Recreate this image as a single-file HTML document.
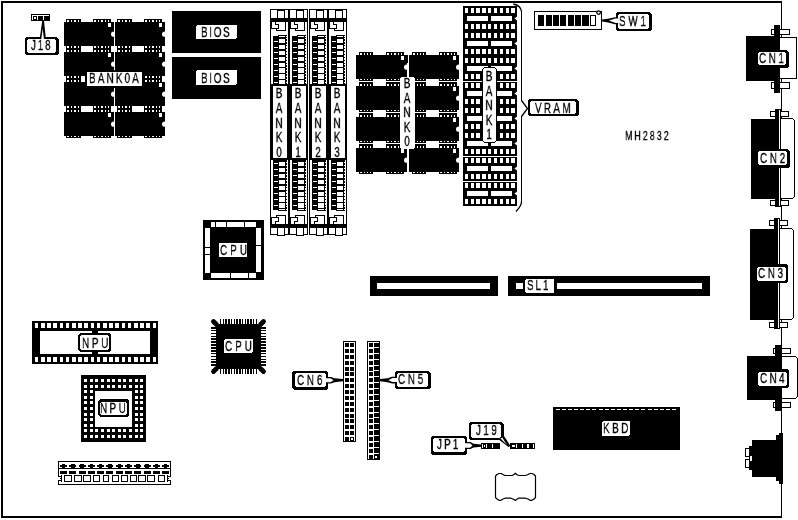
<!DOCTYPE html>
<html><head><meta charset="utf-8"><title>MH2832</title>
<style>
html,body{margin:0;padding:0;background:#fff;}
#b{position:relative;width:798px;height:520px;overflow:hidden;background:#fff;font-family:"Liberation Sans",sans-serif;color:#000;}
#b svg{position:absolute;left:0;top:0;}
.t,.v{-webkit-text-stroke:0.3px #000;}
.t{will-change:transform;position:absolute;text-align:left;white-space:nowrap;transform-origin:0 0;font-kerning:none;}
.v{will-change:transform;transform-origin:50% 50%;position:absolute;text-align:center;word-break:break-all;overflow-wrap:anywhere;}
</style></head><body>
<div id="b">
<svg width="798" height="520" viewBox="0 0 798 520" shape-rendering="crispEdges">
<rect x="1" y="1" width="781" height="517" fill="#000"/>
<rect x="3" y="3" width="778" height="513" fill="#fff"/>
<rect x="64" y="22" width="50" height="24" fill="#000"/>
<rect x="66" y="19" width="15" height="3" fill="#000"/>
<rect x="67.3" y="20" width="1.4" height="2" fill="#fff"/>
<rect x="70.8" y="20" width="1.4" height="2" fill="#fff"/>
<rect x="74.3" y="20" width="1.4" height="2" fill="#fff"/>
<rect x="77.8" y="20" width="1.4" height="2" fill="#fff"/>
<rect x="66" y="46" width="15" height="3" fill="#000"/>
<rect x="67.3" y="46" width="1.4" height="2" fill="#fff"/>
<rect x="70.8" y="46" width="1.4" height="2" fill="#fff"/>
<rect x="74.3" y="46" width="1.4" height="2" fill="#fff"/>
<rect x="77.8" y="46" width="1.4" height="2" fill="#fff"/>
<rect x="93" y="19" width="18" height="3" fill="#000"/>
<rect x="94.3" y="20" width="1.4" height="2" fill="#fff"/>
<rect x="97.7" y="20" width="1.4" height="2" fill="#fff"/>
<rect x="101.1" y="20" width="1.4" height="2" fill="#fff"/>
<rect x="104.5" y="20" width="1.4" height="2" fill="#fff"/>
<rect x="107.9" y="20" width="1.4" height="2" fill="#fff"/>
<rect x="93" y="46" width="18" height="3" fill="#000"/>
<rect x="94.3" y="46" width="1.4" height="2" fill="#fff"/>
<rect x="97.7" y="46" width="1.4" height="2" fill="#fff"/>
<rect x="101.1" y="46" width="1.4" height="2" fill="#fff"/>
<rect x="104.5" y="46" width="1.4" height="2" fill="#fff"/>
<rect x="107.9" y="46" width="1.4" height="2" fill="#fff"/>
<rect x="108" y="23" width="3" height="4" fill="#fff"/>
<path d="M114 31.6 a3 2.6 0 0 0 0 5.2z" fill="#fff" shape-rendering="auto"/>
<rect x="115" y="22" width="50" height="24" fill="#000"/>
<rect x="117" y="19" width="15" height="3" fill="#000"/>
<rect x="118.3" y="20" width="1.4" height="2" fill="#fff"/>
<rect x="121.8" y="20" width="1.4" height="2" fill="#fff"/>
<rect x="125.3" y="20" width="1.4" height="2" fill="#fff"/>
<rect x="128.8" y="20" width="1.4" height="2" fill="#fff"/>
<rect x="117" y="46" width="15" height="3" fill="#000"/>
<rect x="118.3" y="46" width="1.4" height="2" fill="#fff"/>
<rect x="121.8" y="46" width="1.4" height="2" fill="#fff"/>
<rect x="125.3" y="46" width="1.4" height="2" fill="#fff"/>
<rect x="128.8" y="46" width="1.4" height="2" fill="#fff"/>
<rect x="144" y="19" width="18" height="3" fill="#000"/>
<rect x="145.3" y="20" width="1.4" height="2" fill="#fff"/>
<rect x="148.7" y="20" width="1.4" height="2" fill="#fff"/>
<rect x="152.1" y="20" width="1.4" height="2" fill="#fff"/>
<rect x="155.5" y="20" width="1.4" height="2" fill="#fff"/>
<rect x="158.9" y="20" width="1.4" height="2" fill="#fff"/>
<rect x="144" y="46" width="18" height="3" fill="#000"/>
<rect x="145.3" y="46" width="1.4" height="2" fill="#fff"/>
<rect x="148.7" y="46" width="1.4" height="2" fill="#fff"/>
<rect x="152.1" y="46" width="1.4" height="2" fill="#fff"/>
<rect x="155.5" y="46" width="1.4" height="2" fill="#fff"/>
<rect x="158.9" y="46" width="1.4" height="2" fill="#fff"/>
<rect x="159" y="23" width="3" height="4" fill="#fff"/>
<path d="M165 31.6 a3 2.6 0 0 0 0 5.2z" fill="#fff" shape-rendering="auto"/>
<rect x="64" y="52" width="50" height="24" fill="#000"/>
<rect x="66" y="49" width="15" height="3" fill="#000"/>
<rect x="67.3" y="50" width="1.4" height="2" fill="#fff"/>
<rect x="70.8" y="50" width="1.4" height="2" fill="#fff"/>
<rect x="74.3" y="50" width="1.4" height="2" fill="#fff"/>
<rect x="77.8" y="50" width="1.4" height="2" fill="#fff"/>
<rect x="66" y="76" width="15" height="3" fill="#000"/>
<rect x="67.3" y="76" width="1.4" height="2" fill="#fff"/>
<rect x="70.8" y="76" width="1.4" height="2" fill="#fff"/>
<rect x="74.3" y="76" width="1.4" height="2" fill="#fff"/>
<rect x="77.8" y="76" width="1.4" height="2" fill="#fff"/>
<rect x="93" y="49" width="18" height="3" fill="#000"/>
<rect x="94.3" y="50" width="1.4" height="2" fill="#fff"/>
<rect x="97.7" y="50" width="1.4" height="2" fill="#fff"/>
<rect x="101.1" y="50" width="1.4" height="2" fill="#fff"/>
<rect x="104.5" y="50" width="1.4" height="2" fill="#fff"/>
<rect x="107.9" y="50" width="1.4" height="2" fill="#fff"/>
<rect x="93" y="76" width="18" height="3" fill="#000"/>
<rect x="94.3" y="76" width="1.4" height="2" fill="#fff"/>
<rect x="97.7" y="76" width="1.4" height="2" fill="#fff"/>
<rect x="101.1" y="76" width="1.4" height="2" fill="#fff"/>
<rect x="104.5" y="76" width="1.4" height="2" fill="#fff"/>
<rect x="107.9" y="76" width="1.4" height="2" fill="#fff"/>
<rect x="108" y="53" width="3" height="4" fill="#fff"/>
<path d="M114 61.6 a3 2.6 0 0 0 0 5.2z" fill="#fff" shape-rendering="auto"/>
<rect x="115" y="52" width="50" height="24" fill="#000"/>
<rect x="117" y="49" width="15" height="3" fill="#000"/>
<rect x="118.3" y="50" width="1.4" height="2" fill="#fff"/>
<rect x="121.8" y="50" width="1.4" height="2" fill="#fff"/>
<rect x="125.3" y="50" width="1.4" height="2" fill="#fff"/>
<rect x="128.8" y="50" width="1.4" height="2" fill="#fff"/>
<rect x="117" y="76" width="15" height="3" fill="#000"/>
<rect x="118.3" y="76" width="1.4" height="2" fill="#fff"/>
<rect x="121.8" y="76" width="1.4" height="2" fill="#fff"/>
<rect x="125.3" y="76" width="1.4" height="2" fill="#fff"/>
<rect x="128.8" y="76" width="1.4" height="2" fill="#fff"/>
<rect x="144" y="49" width="18" height="3" fill="#000"/>
<rect x="145.3" y="50" width="1.4" height="2" fill="#fff"/>
<rect x="148.7" y="50" width="1.4" height="2" fill="#fff"/>
<rect x="152.1" y="50" width="1.4" height="2" fill="#fff"/>
<rect x="155.5" y="50" width="1.4" height="2" fill="#fff"/>
<rect x="158.9" y="50" width="1.4" height="2" fill="#fff"/>
<rect x="144" y="76" width="18" height="3" fill="#000"/>
<rect x="145.3" y="76" width="1.4" height="2" fill="#fff"/>
<rect x="148.7" y="76" width="1.4" height="2" fill="#fff"/>
<rect x="152.1" y="76" width="1.4" height="2" fill="#fff"/>
<rect x="155.5" y="76" width="1.4" height="2" fill="#fff"/>
<rect x="158.9" y="76" width="1.4" height="2" fill="#fff"/>
<rect x="159" y="53" width="3" height="4" fill="#fff"/>
<path d="M165 61.6 a3 2.6 0 0 0 0 5.2z" fill="#fff" shape-rendering="auto"/>
<rect x="64" y="82" width="50" height="24" fill="#000"/>
<rect x="66" y="79" width="15" height="3" fill="#000"/>
<rect x="67.3" y="80" width="1.4" height="2" fill="#fff"/>
<rect x="70.8" y="80" width="1.4" height="2" fill="#fff"/>
<rect x="74.3" y="80" width="1.4" height="2" fill="#fff"/>
<rect x="77.8" y="80" width="1.4" height="2" fill="#fff"/>
<rect x="66" y="106" width="15" height="3" fill="#000"/>
<rect x="67.3" y="106" width="1.4" height="2" fill="#fff"/>
<rect x="70.8" y="106" width="1.4" height="2" fill="#fff"/>
<rect x="74.3" y="106" width="1.4" height="2" fill="#fff"/>
<rect x="77.8" y="106" width="1.4" height="2" fill="#fff"/>
<rect x="93" y="79" width="18" height="3" fill="#000"/>
<rect x="94.3" y="80" width="1.4" height="2" fill="#fff"/>
<rect x="97.7" y="80" width="1.4" height="2" fill="#fff"/>
<rect x="101.1" y="80" width="1.4" height="2" fill="#fff"/>
<rect x="104.5" y="80" width="1.4" height="2" fill="#fff"/>
<rect x="107.9" y="80" width="1.4" height="2" fill="#fff"/>
<rect x="93" y="106" width="18" height="3" fill="#000"/>
<rect x="94.3" y="106" width="1.4" height="2" fill="#fff"/>
<rect x="97.7" y="106" width="1.4" height="2" fill="#fff"/>
<rect x="101.1" y="106" width="1.4" height="2" fill="#fff"/>
<rect x="104.5" y="106" width="1.4" height="2" fill="#fff"/>
<rect x="107.9" y="106" width="1.4" height="2" fill="#fff"/>
<rect x="108" y="83" width="3" height="4" fill="#fff"/>
<path d="M114 91.6 a3 2.6 0 0 0 0 5.2z" fill="#fff" shape-rendering="auto"/>
<rect x="115" y="82" width="50" height="24" fill="#000"/>
<rect x="117" y="79" width="15" height="3" fill="#000"/>
<rect x="118.3" y="80" width="1.4" height="2" fill="#fff"/>
<rect x="121.8" y="80" width="1.4" height="2" fill="#fff"/>
<rect x="125.3" y="80" width="1.4" height="2" fill="#fff"/>
<rect x="128.8" y="80" width="1.4" height="2" fill="#fff"/>
<rect x="117" y="106" width="15" height="3" fill="#000"/>
<rect x="118.3" y="106" width="1.4" height="2" fill="#fff"/>
<rect x="121.8" y="106" width="1.4" height="2" fill="#fff"/>
<rect x="125.3" y="106" width="1.4" height="2" fill="#fff"/>
<rect x="128.8" y="106" width="1.4" height="2" fill="#fff"/>
<rect x="144" y="79" width="18" height="3" fill="#000"/>
<rect x="145.3" y="80" width="1.4" height="2" fill="#fff"/>
<rect x="148.7" y="80" width="1.4" height="2" fill="#fff"/>
<rect x="152.1" y="80" width="1.4" height="2" fill="#fff"/>
<rect x="155.5" y="80" width="1.4" height="2" fill="#fff"/>
<rect x="158.9" y="80" width="1.4" height="2" fill="#fff"/>
<rect x="144" y="106" width="18" height="3" fill="#000"/>
<rect x="145.3" y="106" width="1.4" height="2" fill="#fff"/>
<rect x="148.7" y="106" width="1.4" height="2" fill="#fff"/>
<rect x="152.1" y="106" width="1.4" height="2" fill="#fff"/>
<rect x="155.5" y="106" width="1.4" height="2" fill="#fff"/>
<rect x="158.9" y="106" width="1.4" height="2" fill="#fff"/>
<rect x="159" y="83" width="3" height="4" fill="#fff"/>
<path d="M165 91.6 a3 2.6 0 0 0 0 5.2z" fill="#fff" shape-rendering="auto"/>
<rect x="64" y="112" width="50" height="24" fill="#000"/>
<rect x="66" y="109" width="15" height="3" fill="#000"/>
<rect x="67.3" y="110" width="1.4" height="2" fill="#fff"/>
<rect x="70.8" y="110" width="1.4" height="2" fill="#fff"/>
<rect x="74.3" y="110" width="1.4" height="2" fill="#fff"/>
<rect x="77.8" y="110" width="1.4" height="2" fill="#fff"/>
<rect x="66" y="136" width="15" height="2" fill="#000"/>
<rect x="67.3" y="136" width="1.4" height="1" fill="#fff"/>
<rect x="70.8" y="136" width="1.4" height="1" fill="#fff"/>
<rect x="74.3" y="136" width="1.4" height="1" fill="#fff"/>
<rect x="77.8" y="136" width="1.4" height="1" fill="#fff"/>
<rect x="93" y="109" width="18" height="3" fill="#000"/>
<rect x="94.3" y="110" width="1.4" height="2" fill="#fff"/>
<rect x="97.7" y="110" width="1.4" height="2" fill="#fff"/>
<rect x="101.1" y="110" width="1.4" height="2" fill="#fff"/>
<rect x="104.5" y="110" width="1.4" height="2" fill="#fff"/>
<rect x="107.9" y="110" width="1.4" height="2" fill="#fff"/>
<rect x="93" y="136" width="18" height="2" fill="#000"/>
<rect x="94.3" y="136" width="1.4" height="1" fill="#fff"/>
<rect x="97.7" y="136" width="1.4" height="1" fill="#fff"/>
<rect x="101.1" y="136" width="1.4" height="1" fill="#fff"/>
<rect x="104.5" y="136" width="1.4" height="1" fill="#fff"/>
<rect x="107.9" y="136" width="1.4" height="1" fill="#fff"/>
<rect x="108" y="113" width="3" height="4" fill="#fff"/>
<path d="M114 121.6 a3 2.6 0 0 0 0 5.2z" fill="#fff" shape-rendering="auto"/>
<rect x="115" y="112" width="50" height="24" fill="#000"/>
<rect x="117" y="109" width="15" height="3" fill="#000"/>
<rect x="118.3" y="110" width="1.4" height="2" fill="#fff"/>
<rect x="121.8" y="110" width="1.4" height="2" fill="#fff"/>
<rect x="125.3" y="110" width="1.4" height="2" fill="#fff"/>
<rect x="128.8" y="110" width="1.4" height="2" fill="#fff"/>
<rect x="117" y="136" width="15" height="2" fill="#000"/>
<rect x="118.3" y="136" width="1.4" height="1" fill="#fff"/>
<rect x="121.8" y="136" width="1.4" height="1" fill="#fff"/>
<rect x="125.3" y="136" width="1.4" height="1" fill="#fff"/>
<rect x="128.8" y="136" width="1.4" height="1" fill="#fff"/>
<rect x="144" y="109" width="18" height="3" fill="#000"/>
<rect x="145.3" y="110" width="1.4" height="2" fill="#fff"/>
<rect x="148.7" y="110" width="1.4" height="2" fill="#fff"/>
<rect x="152.1" y="110" width="1.4" height="2" fill="#fff"/>
<rect x="155.5" y="110" width="1.4" height="2" fill="#fff"/>
<rect x="158.9" y="110" width="1.4" height="2" fill="#fff"/>
<rect x="144" y="136" width="18" height="2" fill="#000"/>
<rect x="145.3" y="136" width="1.4" height="1" fill="#fff"/>
<rect x="148.7" y="136" width="1.4" height="1" fill="#fff"/>
<rect x="152.1" y="136" width="1.4" height="1" fill="#fff"/>
<rect x="155.5" y="136" width="1.4" height="1" fill="#fff"/>
<rect x="158.9" y="136" width="1.4" height="1" fill="#fff"/>
<rect x="159" y="113" width="3" height="4" fill="#fff"/>
<path d="M165 121.6 a3 2.6 0 0 0 0 5.2z" fill="#fff" shape-rendering="auto"/>
<rect x="85" y="70" width="59" height="18" fill="#000"/>
<rect x="87" y="72" width="55" height="14" fill="#fff"/>
<rect x="172" y="11" width="89" height="42" fill="#000"/>
<rect x="172" y="57" width="89" height="42" fill="#000"/>
<rect x="196" y="25" width="41" height="14" rx="2" ry="2" fill="#fff"/>
<rect x="196" y="70" width="41" height="15" rx="2" ry="2" fill="#fff"/>
<rect x="31" y="14" width="19" height="7" fill="#000"/>
<rect x="32" y="15" width="17" height="1" fill="#fff"/>
<rect x="32" y="15" width="1" height="5" fill="#fff"/>
<rect x="37" y="15" width="1" height="5" fill="#fff"/>
<rect x="43" y="15" width="1" height="5" fill="#fff"/>
<rect x="34" y="17" width="2" height="2" fill="#fff"/>
<rect x="25" y="37" width="34" height="18" fill="#000"/>
<rect x="27" y="39" width="29" height="14" fill="#fff"/>
<rect x="27" y="39" width="1" height="1" fill="#000"/>
<rect x="55" y="39" width="1" height="1" fill="#000"/>
<rect x="27" y="52" width="1" height="1" fill="#000"/>
<rect x="55" y="52" width="1" height="1" fill="#000"/>
<rect x="25" y="37" width="1" height="1" fill="#fff"/>
<rect x="58" y="37" width="1" height="1" fill="#fff"/>
<rect x="57" y="37" width="1" height="1" fill="#fff"/>
<rect x="58" y="38" width="1" height="1" fill="#fff"/>
<rect x="25" y="54" width="1" height="1" fill="#fff"/>
<rect x="58" y="54" width="1" height="1" fill="#fff"/>
<path d="M42.2 21 L44 21 L45.8 38 L39.8 38 Z" fill="#000" stroke="none" stroke-width="1" shape-rendering="auto"/>
<path d="M42.7 28.5 L43.9 39 L41.3 39 Z" fill="#fff" stroke="none" stroke-width="1" shape-rendering="auto"/>
<rect x="270" y="9" width="19" height="226" fill="#000"/>
<rect x="271" y="10" width="17" height="224" fill="#fff"/>
<rect x="277" y="9" width="1" height="9" fill="#000"/>
<rect x="284" y="9" width="1" height="9" fill="#000"/>
<rect x="270" y="18" width="19" height="4" fill="#000"/>
<rect x="277" y="10" width="8" height="1" fill="#000"/>
<rect x="277" y="228" width="1" height="8" fill="#000"/>
<rect x="284" y="228" width="1" height="8" fill="#000"/>
<rect x="270" y="224" width="19" height="4" fill="#000"/>
<rect x="278" y="234" width="6" height="1" fill="#fff"/>
<rect x="277" y="235" width="8" height="1" fill="#000"/>
<rect x="271" y="22" width="1" height="7" fill="#000"/>
<rect x="271" y="28" width="8" height="1" fill="#000"/>
<rect x="276" y="28" width="1" height="3" fill="#000"/>
<rect x="276" y="30" width="10" height="1" fill="#000"/>
<rect x="285" y="22" width="1" height="9" fill="#000"/>
<rect x="275" y="22" width="1" height="3" fill="#000"/>
<rect x="275" y="24" width="4" height="1" fill="#000"/>
<rect x="278" y="24" width="1" height="5" fill="#000"/>
<rect x="271" y="217" width="1" height="7" fill="#000"/>
<rect x="271" y="217" width="8" height="1" fill="#000"/>
<rect x="276" y="215" width="1" height="3" fill="#000"/>
<rect x="276" y="215" width="10" height="1" fill="#000"/>
<rect x="285" y="215" width="1" height="9" fill="#000"/>
<rect x="275" y="221" width="1" height="3" fill="#000"/>
<rect x="275" y="221" width="4" height="1" fill="#000"/>
<rect x="278" y="217" width="1" height="5" fill="#000"/>
<rect x="278" y="35" width="9" height="1" fill="#000"/>
<rect x="273" y="36" width="13" height="48" fill="#000"/>
<rect x="286" y="37" width="1" height="47" fill="#000"/>
<rect x="279" y="36" width="6" height="1" fill="#fff"/>
<rect x="279" y="38.9" width="6" height="4.3" fill="#fff"/>
<rect x="274" y="40.6" width="4" height="1" fill="#fff"/>
<rect x="279" y="44.8" width="6" height="4.3" fill="#fff"/>
<rect x="274" y="46.5" width="4" height="1" fill="#fff"/>
<rect x="279" y="50.7" width="6" height="4.3" fill="#fff"/>
<rect x="274" y="52.4" width="4" height="1" fill="#fff"/>
<rect x="279" y="56.6" width="6" height="4.3" fill="#fff"/>
<rect x="274" y="58.3" width="4" height="1" fill="#fff"/>
<rect x="279" y="62.5" width="6" height="4.3" fill="#fff"/>
<rect x="274" y="64.2" width="4" height="1" fill="#fff"/>
<rect x="279" y="68.4" width="6" height="4.3" fill="#fff"/>
<rect x="274" y="70.1" width="4" height="1" fill="#fff"/>
<rect x="279" y="74.3" width="6" height="4.3" fill="#fff"/>
<rect x="274" y="76" width="4" height="1" fill="#fff"/>
<rect x="279" y="80.2" width="6" height="4.3" fill="#fff"/>
<rect x="274" y="81.9" width="4" height="1" fill="#fff"/>
<rect x="273" y="160" width="13" height="50" fill="#000"/>
<rect x="278" y="210" width="9" height="1" fill="#000"/>
<rect x="286" y="160" width="1" height="49" fill="#000"/>
<rect x="279" y="209" width="6" height="1" fill="#fff"/>
<rect x="279" y="162" width="6" height="4.3" fill="#fff"/>
<rect x="274" y="163.4" width="4" height="1" fill="#fff"/>
<rect x="279" y="167.9" width="6" height="4.3" fill="#fff"/>
<rect x="274" y="169.3" width="4" height="1" fill="#fff"/>
<rect x="279" y="173.8" width="6" height="4.3" fill="#fff"/>
<rect x="274" y="175.2" width="4" height="1" fill="#fff"/>
<rect x="279" y="179.7" width="6" height="4.3" fill="#fff"/>
<rect x="274" y="181.1" width="4" height="1" fill="#fff"/>
<rect x="279" y="185.6" width="6" height="4.3" fill="#fff"/>
<rect x="274" y="187" width="4" height="1" fill="#fff"/>
<rect x="279" y="191.5" width="6" height="4.3" fill="#fff"/>
<rect x="274" y="192.9" width="4" height="1" fill="#fff"/>
<rect x="279" y="197.4" width="6" height="4.3" fill="#fff"/>
<rect x="274" y="198.8" width="4" height="1" fill="#fff"/>
<rect x="279" y="203.3" width="6" height="4.3" fill="#fff"/>
<rect x="274" y="204.7" width="4" height="1" fill="#fff"/>
<rect x="286" y="37.6" width="1" height="1.3" fill="#fff"/>
<rect x="286" y="161.9" width="1" height="1.3" fill="#fff"/>
<rect x="286" y="40.55" width="1" height="1.3" fill="#fff"/>
<rect x="286" y="164.85" width="1" height="1.3" fill="#fff"/>
<rect x="286" y="43.5" width="1" height="1.3" fill="#fff"/>
<rect x="286" y="167.8" width="1" height="1.3" fill="#fff"/>
<rect x="286" y="46.45" width="1" height="1.3" fill="#fff"/>
<rect x="286" y="170.75" width="1" height="1.3" fill="#fff"/>
<rect x="286" y="49.4" width="1" height="1.3" fill="#fff"/>
<rect x="286" y="173.7" width="1" height="1.3" fill="#fff"/>
<rect x="286" y="52.35" width="1" height="1.3" fill="#fff"/>
<rect x="286" y="176.65" width="1" height="1.3" fill="#fff"/>
<rect x="286" y="55.3" width="1" height="1.3" fill="#fff"/>
<rect x="286" y="179.6" width="1" height="1.3" fill="#fff"/>
<rect x="286" y="58.25" width="1" height="1.3" fill="#fff"/>
<rect x="286" y="182.55" width="1" height="1.3" fill="#fff"/>
<rect x="286" y="61.2" width="1" height="1.3" fill="#fff"/>
<rect x="286" y="185.5" width="1" height="1.3" fill="#fff"/>
<rect x="286" y="64.15" width="1" height="1.3" fill="#fff"/>
<rect x="286" y="188.45" width="1" height="1.3" fill="#fff"/>
<rect x="286" y="67.1" width="1" height="1.3" fill="#fff"/>
<rect x="286" y="191.4" width="1" height="1.3" fill="#fff"/>
<rect x="286" y="70.05" width="1" height="1.3" fill="#fff"/>
<rect x="286" y="194.35" width="1" height="1.3" fill="#fff"/>
<rect x="286" y="73" width="1" height="1.3" fill="#fff"/>
<rect x="286" y="197.3" width="1" height="1.3" fill="#fff"/>
<rect x="286" y="75.95" width="1" height="1.3" fill="#fff"/>
<rect x="286" y="200.25" width="1" height="1.3" fill="#fff"/>
<rect x="286" y="78.9" width="1" height="1.3" fill="#fff"/>
<rect x="286" y="203.2" width="1" height="1.3" fill="#fff"/>
<rect x="286" y="81.85" width="1" height="1.3" fill="#fff"/>
<rect x="286" y="206.15" width="1" height="1.3" fill="#fff"/>
<rect x="270" y="84" width="19" height="76" fill="#000"/>
<rect x="273" y="86" width="14" height="72" fill="#fff"/>
<rect x="289" y="9" width="19" height="226" fill="#000"/>
<rect x="290" y="10" width="17" height="224" fill="#fff"/>
<rect x="296" y="9" width="1" height="9" fill="#000"/>
<rect x="303" y="9" width="1" height="9" fill="#000"/>
<rect x="289" y="18" width="19" height="4" fill="#000"/>
<rect x="296" y="10" width="8" height="1" fill="#000"/>
<rect x="296" y="228" width="1" height="8" fill="#000"/>
<rect x="303" y="228" width="1" height="8" fill="#000"/>
<rect x="289" y="224" width="19" height="4" fill="#000"/>
<rect x="297" y="234" width="6" height="1" fill="#fff"/>
<rect x="296" y="235" width="8" height="1" fill="#000"/>
<rect x="290" y="22" width="1" height="7" fill="#000"/>
<rect x="290" y="28" width="8" height="1" fill="#000"/>
<rect x="295" y="28" width="1" height="3" fill="#000"/>
<rect x="295" y="30" width="10" height="1" fill="#000"/>
<rect x="304" y="22" width="1" height="9" fill="#000"/>
<rect x="294" y="22" width="1" height="3" fill="#000"/>
<rect x="294" y="24" width="4" height="1" fill="#000"/>
<rect x="297" y="24" width="1" height="5" fill="#000"/>
<rect x="290" y="217" width="1" height="7" fill="#000"/>
<rect x="290" y="217" width="8" height="1" fill="#000"/>
<rect x="295" y="215" width="1" height="3" fill="#000"/>
<rect x="295" y="215" width="10" height="1" fill="#000"/>
<rect x="304" y="215" width="1" height="9" fill="#000"/>
<rect x="294" y="221" width="1" height="3" fill="#000"/>
<rect x="294" y="221" width="4" height="1" fill="#000"/>
<rect x="297" y="217" width="1" height="5" fill="#000"/>
<rect x="297" y="35" width="9" height="1" fill="#000"/>
<rect x="292" y="36" width="13" height="48" fill="#000"/>
<rect x="305" y="37" width="1" height="47" fill="#000"/>
<rect x="298" y="36" width="6" height="1" fill="#fff"/>
<rect x="298" y="38.9" width="6" height="4.3" fill="#fff"/>
<rect x="293" y="40.6" width="4" height="1" fill="#fff"/>
<rect x="298" y="44.8" width="6" height="4.3" fill="#fff"/>
<rect x="293" y="46.5" width="4" height="1" fill="#fff"/>
<rect x="298" y="50.7" width="6" height="4.3" fill="#fff"/>
<rect x="293" y="52.4" width="4" height="1" fill="#fff"/>
<rect x="298" y="56.6" width="6" height="4.3" fill="#fff"/>
<rect x="293" y="58.3" width="4" height="1" fill="#fff"/>
<rect x="298" y="62.5" width="6" height="4.3" fill="#fff"/>
<rect x="293" y="64.2" width="4" height="1" fill="#fff"/>
<rect x="298" y="68.4" width="6" height="4.3" fill="#fff"/>
<rect x="293" y="70.1" width="4" height="1" fill="#fff"/>
<rect x="298" y="74.3" width="6" height="4.3" fill="#fff"/>
<rect x="293" y="76" width="4" height="1" fill="#fff"/>
<rect x="298" y="80.2" width="6" height="4.3" fill="#fff"/>
<rect x="293" y="81.9" width="4" height="1" fill="#fff"/>
<rect x="292" y="160" width="13" height="50" fill="#000"/>
<rect x="297" y="210" width="9" height="1" fill="#000"/>
<rect x="305" y="160" width="1" height="49" fill="#000"/>
<rect x="298" y="209" width="6" height="1" fill="#fff"/>
<rect x="298" y="162" width="6" height="4.3" fill="#fff"/>
<rect x="293" y="163.4" width="4" height="1" fill="#fff"/>
<rect x="298" y="167.9" width="6" height="4.3" fill="#fff"/>
<rect x="293" y="169.3" width="4" height="1" fill="#fff"/>
<rect x="298" y="173.8" width="6" height="4.3" fill="#fff"/>
<rect x="293" y="175.2" width="4" height="1" fill="#fff"/>
<rect x="298" y="179.7" width="6" height="4.3" fill="#fff"/>
<rect x="293" y="181.1" width="4" height="1" fill="#fff"/>
<rect x="298" y="185.6" width="6" height="4.3" fill="#fff"/>
<rect x="293" y="187" width="4" height="1" fill="#fff"/>
<rect x="298" y="191.5" width="6" height="4.3" fill="#fff"/>
<rect x="293" y="192.9" width="4" height="1" fill="#fff"/>
<rect x="298" y="197.4" width="6" height="4.3" fill="#fff"/>
<rect x="293" y="198.8" width="4" height="1" fill="#fff"/>
<rect x="298" y="203.3" width="6" height="4.3" fill="#fff"/>
<rect x="293" y="204.7" width="4" height="1" fill="#fff"/>
<rect x="305" y="37.6" width="1" height="1.3" fill="#fff"/>
<rect x="305" y="161.9" width="1" height="1.3" fill="#fff"/>
<rect x="305" y="40.55" width="1" height="1.3" fill="#fff"/>
<rect x="305" y="164.85" width="1" height="1.3" fill="#fff"/>
<rect x="305" y="43.5" width="1" height="1.3" fill="#fff"/>
<rect x="305" y="167.8" width="1" height="1.3" fill="#fff"/>
<rect x="305" y="46.45" width="1" height="1.3" fill="#fff"/>
<rect x="305" y="170.75" width="1" height="1.3" fill="#fff"/>
<rect x="305" y="49.4" width="1" height="1.3" fill="#fff"/>
<rect x="305" y="173.7" width="1" height="1.3" fill="#fff"/>
<rect x="305" y="52.35" width="1" height="1.3" fill="#fff"/>
<rect x="305" y="176.65" width="1" height="1.3" fill="#fff"/>
<rect x="305" y="55.3" width="1" height="1.3" fill="#fff"/>
<rect x="305" y="179.6" width="1" height="1.3" fill="#fff"/>
<rect x="305" y="58.25" width="1" height="1.3" fill="#fff"/>
<rect x="305" y="182.55" width="1" height="1.3" fill="#fff"/>
<rect x="305" y="61.2" width="1" height="1.3" fill="#fff"/>
<rect x="305" y="185.5" width="1" height="1.3" fill="#fff"/>
<rect x="305" y="64.15" width="1" height="1.3" fill="#fff"/>
<rect x="305" y="188.45" width="1" height="1.3" fill="#fff"/>
<rect x="305" y="67.1" width="1" height="1.3" fill="#fff"/>
<rect x="305" y="191.4" width="1" height="1.3" fill="#fff"/>
<rect x="305" y="70.05" width="1" height="1.3" fill="#fff"/>
<rect x="305" y="194.35" width="1" height="1.3" fill="#fff"/>
<rect x="305" y="73" width="1" height="1.3" fill="#fff"/>
<rect x="305" y="197.3" width="1" height="1.3" fill="#fff"/>
<rect x="305" y="75.95" width="1" height="1.3" fill="#fff"/>
<rect x="305" y="200.25" width="1" height="1.3" fill="#fff"/>
<rect x="305" y="78.9" width="1" height="1.3" fill="#fff"/>
<rect x="305" y="203.2" width="1" height="1.3" fill="#fff"/>
<rect x="305" y="81.85" width="1" height="1.3" fill="#fff"/>
<rect x="305" y="206.15" width="1" height="1.3" fill="#fff"/>
<rect x="289" y="84" width="19" height="76" fill="#000"/>
<rect x="292" y="86" width="14" height="72" fill="#fff"/>
<rect x="309" y="9" width="19" height="226" fill="#000"/>
<rect x="310" y="10" width="17" height="224" fill="#fff"/>
<rect x="316" y="9" width="1" height="9" fill="#000"/>
<rect x="323" y="9" width="1" height="9" fill="#000"/>
<rect x="309" y="18" width="19" height="4" fill="#000"/>
<rect x="316" y="10" width="8" height="1" fill="#000"/>
<rect x="316" y="228" width="1" height="8" fill="#000"/>
<rect x="323" y="228" width="1" height="8" fill="#000"/>
<rect x="309" y="224" width="19" height="4" fill="#000"/>
<rect x="317" y="234" width="6" height="1" fill="#fff"/>
<rect x="316" y="235" width="8" height="1" fill="#000"/>
<rect x="310" y="22" width="1" height="7" fill="#000"/>
<rect x="310" y="28" width="8" height="1" fill="#000"/>
<rect x="315" y="28" width="1" height="3" fill="#000"/>
<rect x="315" y="30" width="10" height="1" fill="#000"/>
<rect x="324" y="22" width="1" height="9" fill="#000"/>
<rect x="314" y="22" width="1" height="3" fill="#000"/>
<rect x="314" y="24" width="4" height="1" fill="#000"/>
<rect x="317" y="24" width="1" height="5" fill="#000"/>
<rect x="310" y="217" width="1" height="7" fill="#000"/>
<rect x="310" y="217" width="8" height="1" fill="#000"/>
<rect x="315" y="215" width="1" height="3" fill="#000"/>
<rect x="315" y="215" width="10" height="1" fill="#000"/>
<rect x="324" y="215" width="1" height="9" fill="#000"/>
<rect x="314" y="221" width="1" height="3" fill="#000"/>
<rect x="314" y="221" width="4" height="1" fill="#000"/>
<rect x="317" y="217" width="1" height="5" fill="#000"/>
<rect x="317" y="35" width="9" height="1" fill="#000"/>
<rect x="312" y="36" width="13" height="48" fill="#000"/>
<rect x="325" y="37" width="1" height="47" fill="#000"/>
<rect x="318" y="36" width="6" height="1" fill="#fff"/>
<rect x="318" y="38.9" width="6" height="4.3" fill="#fff"/>
<rect x="313" y="40.6" width="4" height="1" fill="#fff"/>
<rect x="318" y="44.8" width="6" height="4.3" fill="#fff"/>
<rect x="313" y="46.5" width="4" height="1" fill="#fff"/>
<rect x="318" y="50.7" width="6" height="4.3" fill="#fff"/>
<rect x="313" y="52.4" width="4" height="1" fill="#fff"/>
<rect x="318" y="56.6" width="6" height="4.3" fill="#fff"/>
<rect x="313" y="58.3" width="4" height="1" fill="#fff"/>
<rect x="318" y="62.5" width="6" height="4.3" fill="#fff"/>
<rect x="313" y="64.2" width="4" height="1" fill="#fff"/>
<rect x="318" y="68.4" width="6" height="4.3" fill="#fff"/>
<rect x="313" y="70.1" width="4" height="1" fill="#fff"/>
<rect x="318" y="74.3" width="6" height="4.3" fill="#fff"/>
<rect x="313" y="76" width="4" height="1" fill="#fff"/>
<rect x="318" y="80.2" width="6" height="4.3" fill="#fff"/>
<rect x="313" y="81.9" width="4" height="1" fill="#fff"/>
<rect x="312" y="160" width="13" height="50" fill="#000"/>
<rect x="317" y="210" width="9" height="1" fill="#000"/>
<rect x="325" y="160" width="1" height="49" fill="#000"/>
<rect x="318" y="209" width="6" height="1" fill="#fff"/>
<rect x="318" y="162" width="6" height="4.3" fill="#fff"/>
<rect x="313" y="163.4" width="4" height="1" fill="#fff"/>
<rect x="318" y="167.9" width="6" height="4.3" fill="#fff"/>
<rect x="313" y="169.3" width="4" height="1" fill="#fff"/>
<rect x="318" y="173.8" width="6" height="4.3" fill="#fff"/>
<rect x="313" y="175.2" width="4" height="1" fill="#fff"/>
<rect x="318" y="179.7" width="6" height="4.3" fill="#fff"/>
<rect x="313" y="181.1" width="4" height="1" fill="#fff"/>
<rect x="318" y="185.6" width="6" height="4.3" fill="#fff"/>
<rect x="313" y="187" width="4" height="1" fill="#fff"/>
<rect x="318" y="191.5" width="6" height="4.3" fill="#fff"/>
<rect x="313" y="192.9" width="4" height="1" fill="#fff"/>
<rect x="318" y="197.4" width="6" height="4.3" fill="#fff"/>
<rect x="313" y="198.8" width="4" height="1" fill="#fff"/>
<rect x="318" y="203.3" width="6" height="4.3" fill="#fff"/>
<rect x="313" y="204.7" width="4" height="1" fill="#fff"/>
<rect x="325" y="37.6" width="1" height="1.3" fill="#fff"/>
<rect x="325" y="161.9" width="1" height="1.3" fill="#fff"/>
<rect x="325" y="40.55" width="1" height="1.3" fill="#fff"/>
<rect x="325" y="164.85" width="1" height="1.3" fill="#fff"/>
<rect x="325" y="43.5" width="1" height="1.3" fill="#fff"/>
<rect x="325" y="167.8" width="1" height="1.3" fill="#fff"/>
<rect x="325" y="46.45" width="1" height="1.3" fill="#fff"/>
<rect x="325" y="170.75" width="1" height="1.3" fill="#fff"/>
<rect x="325" y="49.4" width="1" height="1.3" fill="#fff"/>
<rect x="325" y="173.7" width="1" height="1.3" fill="#fff"/>
<rect x="325" y="52.35" width="1" height="1.3" fill="#fff"/>
<rect x="325" y="176.65" width="1" height="1.3" fill="#fff"/>
<rect x="325" y="55.3" width="1" height="1.3" fill="#fff"/>
<rect x="325" y="179.6" width="1" height="1.3" fill="#fff"/>
<rect x="325" y="58.25" width="1" height="1.3" fill="#fff"/>
<rect x="325" y="182.55" width="1" height="1.3" fill="#fff"/>
<rect x="325" y="61.2" width="1" height="1.3" fill="#fff"/>
<rect x="325" y="185.5" width="1" height="1.3" fill="#fff"/>
<rect x="325" y="64.15" width="1" height="1.3" fill="#fff"/>
<rect x="325" y="188.45" width="1" height="1.3" fill="#fff"/>
<rect x="325" y="67.1" width="1" height="1.3" fill="#fff"/>
<rect x="325" y="191.4" width="1" height="1.3" fill="#fff"/>
<rect x="325" y="70.05" width="1" height="1.3" fill="#fff"/>
<rect x="325" y="194.35" width="1" height="1.3" fill="#fff"/>
<rect x="325" y="73" width="1" height="1.3" fill="#fff"/>
<rect x="325" y="197.3" width="1" height="1.3" fill="#fff"/>
<rect x="325" y="75.95" width="1" height="1.3" fill="#fff"/>
<rect x="325" y="200.25" width="1" height="1.3" fill="#fff"/>
<rect x="325" y="78.9" width="1" height="1.3" fill="#fff"/>
<rect x="325" y="203.2" width="1" height="1.3" fill="#fff"/>
<rect x="325" y="81.85" width="1" height="1.3" fill="#fff"/>
<rect x="325" y="206.15" width="1" height="1.3" fill="#fff"/>
<rect x="309" y="84" width="19" height="76" fill="#000"/>
<rect x="312" y="86" width="14" height="72" fill="#fff"/>
<rect x="328" y="9" width="19" height="226" fill="#000"/>
<rect x="329" y="10" width="17" height="224" fill="#fff"/>
<rect x="335" y="9" width="1" height="9" fill="#000"/>
<rect x="342" y="9" width="1" height="9" fill="#000"/>
<rect x="328" y="18" width="19" height="4" fill="#000"/>
<rect x="335" y="10" width="8" height="1" fill="#000"/>
<rect x="335" y="228" width="1" height="8" fill="#000"/>
<rect x="342" y="228" width="1" height="8" fill="#000"/>
<rect x="328" y="224" width="19" height="4" fill="#000"/>
<rect x="336" y="234" width="6" height="1" fill="#fff"/>
<rect x="335" y="235" width="8" height="1" fill="#000"/>
<rect x="329" y="22" width="1" height="7" fill="#000"/>
<rect x="329" y="28" width="8" height="1" fill="#000"/>
<rect x="334" y="28" width="1" height="3" fill="#000"/>
<rect x="334" y="30" width="10" height="1" fill="#000"/>
<rect x="343" y="22" width="1" height="9" fill="#000"/>
<rect x="333" y="22" width="1" height="3" fill="#000"/>
<rect x="333" y="24" width="4" height="1" fill="#000"/>
<rect x="336" y="24" width="1" height="5" fill="#000"/>
<rect x="329" y="217" width="1" height="7" fill="#000"/>
<rect x="329" y="217" width="8" height="1" fill="#000"/>
<rect x="334" y="215" width="1" height="3" fill="#000"/>
<rect x="334" y="215" width="10" height="1" fill="#000"/>
<rect x="343" y="215" width="1" height="9" fill="#000"/>
<rect x="333" y="221" width="1" height="3" fill="#000"/>
<rect x="333" y="221" width="4" height="1" fill="#000"/>
<rect x="336" y="217" width="1" height="5" fill="#000"/>
<rect x="336" y="35" width="9" height="1" fill="#000"/>
<rect x="331" y="36" width="13" height="48" fill="#000"/>
<rect x="344" y="37" width="1" height="47" fill="#000"/>
<rect x="337" y="36" width="6" height="1" fill="#fff"/>
<rect x="337" y="38.9" width="6" height="4.3" fill="#fff"/>
<rect x="332" y="40.6" width="4" height="1" fill="#fff"/>
<rect x="337" y="44.8" width="6" height="4.3" fill="#fff"/>
<rect x="332" y="46.5" width="4" height="1" fill="#fff"/>
<rect x="337" y="50.7" width="6" height="4.3" fill="#fff"/>
<rect x="332" y="52.4" width="4" height="1" fill="#fff"/>
<rect x="337" y="56.6" width="6" height="4.3" fill="#fff"/>
<rect x="332" y="58.3" width="4" height="1" fill="#fff"/>
<rect x="337" y="62.5" width="6" height="4.3" fill="#fff"/>
<rect x="332" y="64.2" width="4" height="1" fill="#fff"/>
<rect x="337" y="68.4" width="6" height="4.3" fill="#fff"/>
<rect x="332" y="70.1" width="4" height="1" fill="#fff"/>
<rect x="337" y="74.3" width="6" height="4.3" fill="#fff"/>
<rect x="332" y="76" width="4" height="1" fill="#fff"/>
<rect x="337" y="80.2" width="6" height="4.3" fill="#fff"/>
<rect x="332" y="81.9" width="4" height="1" fill="#fff"/>
<rect x="331" y="160" width="13" height="50" fill="#000"/>
<rect x="336" y="210" width="9" height="1" fill="#000"/>
<rect x="344" y="160" width="1" height="49" fill="#000"/>
<rect x="337" y="209" width="6" height="1" fill="#fff"/>
<rect x="337" y="162" width="6" height="4.3" fill="#fff"/>
<rect x="332" y="163.4" width="4" height="1" fill="#fff"/>
<rect x="337" y="167.9" width="6" height="4.3" fill="#fff"/>
<rect x="332" y="169.3" width="4" height="1" fill="#fff"/>
<rect x="337" y="173.8" width="6" height="4.3" fill="#fff"/>
<rect x="332" y="175.2" width="4" height="1" fill="#fff"/>
<rect x="337" y="179.7" width="6" height="4.3" fill="#fff"/>
<rect x="332" y="181.1" width="4" height="1" fill="#fff"/>
<rect x="337" y="185.6" width="6" height="4.3" fill="#fff"/>
<rect x="332" y="187" width="4" height="1" fill="#fff"/>
<rect x="337" y="191.5" width="6" height="4.3" fill="#fff"/>
<rect x="332" y="192.9" width="4" height="1" fill="#fff"/>
<rect x="337" y="197.4" width="6" height="4.3" fill="#fff"/>
<rect x="332" y="198.8" width="4" height="1" fill="#fff"/>
<rect x="337" y="203.3" width="6" height="4.3" fill="#fff"/>
<rect x="332" y="204.7" width="4" height="1" fill="#fff"/>
<rect x="344" y="37.6" width="1" height="1.3" fill="#fff"/>
<rect x="344" y="161.9" width="1" height="1.3" fill="#fff"/>
<rect x="344" y="40.55" width="1" height="1.3" fill="#fff"/>
<rect x="344" y="164.85" width="1" height="1.3" fill="#fff"/>
<rect x="344" y="43.5" width="1" height="1.3" fill="#fff"/>
<rect x="344" y="167.8" width="1" height="1.3" fill="#fff"/>
<rect x="344" y="46.45" width="1" height="1.3" fill="#fff"/>
<rect x="344" y="170.75" width="1" height="1.3" fill="#fff"/>
<rect x="344" y="49.4" width="1" height="1.3" fill="#fff"/>
<rect x="344" y="173.7" width="1" height="1.3" fill="#fff"/>
<rect x="344" y="52.35" width="1" height="1.3" fill="#fff"/>
<rect x="344" y="176.65" width="1" height="1.3" fill="#fff"/>
<rect x="344" y="55.3" width="1" height="1.3" fill="#fff"/>
<rect x="344" y="179.6" width="1" height="1.3" fill="#fff"/>
<rect x="344" y="58.25" width="1" height="1.3" fill="#fff"/>
<rect x="344" y="182.55" width="1" height="1.3" fill="#fff"/>
<rect x="344" y="61.2" width="1" height="1.3" fill="#fff"/>
<rect x="344" y="185.5" width="1" height="1.3" fill="#fff"/>
<rect x="344" y="64.15" width="1" height="1.3" fill="#fff"/>
<rect x="344" y="188.45" width="1" height="1.3" fill="#fff"/>
<rect x="344" y="67.1" width="1" height="1.3" fill="#fff"/>
<rect x="344" y="191.4" width="1" height="1.3" fill="#fff"/>
<rect x="344" y="70.05" width="1" height="1.3" fill="#fff"/>
<rect x="344" y="194.35" width="1" height="1.3" fill="#fff"/>
<rect x="344" y="73" width="1" height="1.3" fill="#fff"/>
<rect x="344" y="197.3" width="1" height="1.3" fill="#fff"/>
<rect x="344" y="75.95" width="1" height="1.3" fill="#fff"/>
<rect x="344" y="200.25" width="1" height="1.3" fill="#fff"/>
<rect x="344" y="78.9" width="1" height="1.3" fill="#fff"/>
<rect x="344" y="203.2" width="1" height="1.3" fill="#fff"/>
<rect x="344" y="81.85" width="1" height="1.3" fill="#fff"/>
<rect x="344" y="206.15" width="1" height="1.3" fill="#fff"/>
<rect x="328" y="84" width="19" height="76" fill="#000"/>
<rect x="331" y="86" width="14" height="72" fill="#fff"/>
<rect x="356" y="55" width="51" height="24" fill="#000"/>
<rect x="359" y="52" width="14" height="3" fill="#000"/>
<rect x="360.3" y="53" width="1.4" height="2" fill="#fff"/>
<rect x="363.55" y="53" width="1.4" height="2" fill="#fff"/>
<rect x="366.8" y="53" width="1.4" height="2" fill="#fff"/>
<rect x="370.05" y="53" width="1.4" height="2" fill="#fff"/>
<rect x="359" y="79" width="14" height="2" fill="#000"/>
<rect x="360.3" y="79" width="1.4" height="1" fill="#fff"/>
<rect x="363.55" y="79" width="1.4" height="1" fill="#fff"/>
<rect x="366.8" y="79" width="1.4" height="1" fill="#fff"/>
<rect x="370.05" y="79" width="1.4" height="1" fill="#fff"/>
<rect x="386" y="52" width="18" height="3" fill="#000"/>
<rect x="387.3" y="53" width="1.4" height="2" fill="#fff"/>
<rect x="390.7" y="53" width="1.4" height="2" fill="#fff"/>
<rect x="394.1" y="53" width="1.4" height="2" fill="#fff"/>
<rect x="397.5" y="53" width="1.4" height="2" fill="#fff"/>
<rect x="400.9" y="53" width="1.4" height="2" fill="#fff"/>
<rect x="386" y="79" width="18" height="2" fill="#000"/>
<rect x="387.3" y="79" width="1.4" height="1" fill="#fff"/>
<rect x="390.7" y="79" width="1.4" height="1" fill="#fff"/>
<rect x="394.1" y="79" width="1.4" height="1" fill="#fff"/>
<rect x="397.5" y="79" width="1.4" height="1" fill="#fff"/>
<rect x="400.9" y="79" width="1.4" height="1" fill="#fff"/>
<rect x="401" y="56" width="3" height="4" fill="#fff"/>
<path d="M407 64.6 a3 2.6 0 0 0 0 5.2z" fill="#fff" shape-rendering="auto"/>
<rect x="409" y="55" width="50" height="24" fill="#000"/>
<rect x="412" y="52" width="14" height="3" fill="#000"/>
<rect x="413.3" y="53" width="1.4" height="2" fill="#fff"/>
<rect x="416.55" y="53" width="1.4" height="2" fill="#fff"/>
<rect x="419.8" y="53" width="1.4" height="2" fill="#fff"/>
<rect x="423.05" y="53" width="1.4" height="2" fill="#fff"/>
<rect x="412" y="79" width="14" height="2" fill="#000"/>
<rect x="413.3" y="79" width="1.4" height="1" fill="#fff"/>
<rect x="416.55" y="79" width="1.4" height="1" fill="#fff"/>
<rect x="419.8" y="79" width="1.4" height="1" fill="#fff"/>
<rect x="423.05" y="79" width="1.4" height="1" fill="#fff"/>
<rect x="439" y="52" width="18" height="3" fill="#000"/>
<rect x="440.3" y="53" width="1.4" height="2" fill="#fff"/>
<rect x="443.7" y="53" width="1.4" height="2" fill="#fff"/>
<rect x="447.1" y="53" width="1.4" height="2" fill="#fff"/>
<rect x="450.5" y="53" width="1.4" height="2" fill="#fff"/>
<rect x="453.9" y="53" width="1.4" height="2" fill="#fff"/>
<rect x="439" y="79" width="18" height="2" fill="#000"/>
<rect x="440.3" y="79" width="1.4" height="1" fill="#fff"/>
<rect x="443.7" y="79" width="1.4" height="1" fill="#fff"/>
<rect x="447.1" y="79" width="1.4" height="1" fill="#fff"/>
<rect x="450.5" y="79" width="1.4" height="1" fill="#fff"/>
<rect x="453.9" y="79" width="1.4" height="1" fill="#fff"/>
<rect x="453" y="56" width="3" height="4" fill="#fff"/>
<path d="M459 64.6 a3 2.6 0 0 0 0 5.2z" fill="#fff" shape-rendering="auto"/>
<rect x="359" y="82" width="14" height="1" fill="#000"/>
<rect x="386" y="82" width="18" height="1" fill="#000"/>
<rect x="412" y="82" width="14" height="1" fill="#000"/>
<rect x="439" y="82" width="18" height="1" fill="#000"/>
<rect x="356" y="86" width="51" height="24" fill="#000"/>
<rect x="359" y="83" width="14" height="3" fill="#000"/>
<rect x="360.3" y="84" width="1.4" height="2" fill="#fff"/>
<rect x="363.55" y="84" width="1.4" height="2" fill="#fff"/>
<rect x="366.8" y="84" width="1.4" height="2" fill="#fff"/>
<rect x="370.05" y="84" width="1.4" height="2" fill="#fff"/>
<rect x="359" y="110" width="14" height="2" fill="#000"/>
<rect x="360.3" y="110" width="1.4" height="1" fill="#fff"/>
<rect x="363.55" y="110" width="1.4" height="1" fill="#fff"/>
<rect x="366.8" y="110" width="1.4" height="1" fill="#fff"/>
<rect x="370.05" y="110" width="1.4" height="1" fill="#fff"/>
<rect x="386" y="83" width="18" height="3" fill="#000"/>
<rect x="387.3" y="84" width="1.4" height="2" fill="#fff"/>
<rect x="390.7" y="84" width="1.4" height="2" fill="#fff"/>
<rect x="394.1" y="84" width="1.4" height="2" fill="#fff"/>
<rect x="397.5" y="84" width="1.4" height="2" fill="#fff"/>
<rect x="400.9" y="84" width="1.4" height="2" fill="#fff"/>
<rect x="386" y="110" width="18" height="2" fill="#000"/>
<rect x="387.3" y="110" width="1.4" height="1" fill="#fff"/>
<rect x="390.7" y="110" width="1.4" height="1" fill="#fff"/>
<rect x="394.1" y="110" width="1.4" height="1" fill="#fff"/>
<rect x="397.5" y="110" width="1.4" height="1" fill="#fff"/>
<rect x="400.9" y="110" width="1.4" height="1" fill="#fff"/>
<rect x="401" y="87" width="3" height="4" fill="#fff"/>
<path d="M407 95.6 a3 2.6 0 0 0 0 5.2z" fill="#fff" shape-rendering="auto"/>
<rect x="409" y="86" width="50" height="24" fill="#000"/>
<rect x="412" y="83" width="14" height="3" fill="#000"/>
<rect x="413.3" y="84" width="1.4" height="2" fill="#fff"/>
<rect x="416.55" y="84" width="1.4" height="2" fill="#fff"/>
<rect x="419.8" y="84" width="1.4" height="2" fill="#fff"/>
<rect x="423.05" y="84" width="1.4" height="2" fill="#fff"/>
<rect x="412" y="110" width="14" height="2" fill="#000"/>
<rect x="413.3" y="110" width="1.4" height="1" fill="#fff"/>
<rect x="416.55" y="110" width="1.4" height="1" fill="#fff"/>
<rect x="419.8" y="110" width="1.4" height="1" fill="#fff"/>
<rect x="423.05" y="110" width="1.4" height="1" fill="#fff"/>
<rect x="439" y="83" width="18" height="3" fill="#000"/>
<rect x="440.3" y="84" width="1.4" height="2" fill="#fff"/>
<rect x="443.7" y="84" width="1.4" height="2" fill="#fff"/>
<rect x="447.1" y="84" width="1.4" height="2" fill="#fff"/>
<rect x="450.5" y="84" width="1.4" height="2" fill="#fff"/>
<rect x="453.9" y="84" width="1.4" height="2" fill="#fff"/>
<rect x="439" y="110" width="18" height="2" fill="#000"/>
<rect x="440.3" y="110" width="1.4" height="1" fill="#fff"/>
<rect x="443.7" y="110" width="1.4" height="1" fill="#fff"/>
<rect x="447.1" y="110" width="1.4" height="1" fill="#fff"/>
<rect x="450.5" y="110" width="1.4" height="1" fill="#fff"/>
<rect x="453.9" y="110" width="1.4" height="1" fill="#fff"/>
<rect x="453" y="87" width="3" height="4" fill="#fff"/>
<path d="M459 95.6 a3 2.6 0 0 0 0 5.2z" fill="#fff" shape-rendering="auto"/>
<rect x="359" y="113" width="14" height="1" fill="#000"/>
<rect x="386" y="113" width="18" height="1" fill="#000"/>
<rect x="412" y="113" width="14" height="1" fill="#000"/>
<rect x="439" y="113" width="18" height="1" fill="#000"/>
<rect x="356" y="117" width="51" height="24" fill="#000"/>
<rect x="359" y="114" width="14" height="3" fill="#000"/>
<rect x="360.3" y="115" width="1.4" height="2" fill="#fff"/>
<rect x="363.55" y="115" width="1.4" height="2" fill="#fff"/>
<rect x="366.8" y="115" width="1.4" height="2" fill="#fff"/>
<rect x="370.05" y="115" width="1.4" height="2" fill="#fff"/>
<rect x="359" y="141" width="14" height="2" fill="#000"/>
<rect x="360.3" y="141" width="1.4" height="1" fill="#fff"/>
<rect x="363.55" y="141" width="1.4" height="1" fill="#fff"/>
<rect x="366.8" y="141" width="1.4" height="1" fill="#fff"/>
<rect x="370.05" y="141" width="1.4" height="1" fill="#fff"/>
<rect x="386" y="114" width="18" height="3" fill="#000"/>
<rect x="387.3" y="115" width="1.4" height="2" fill="#fff"/>
<rect x="390.7" y="115" width="1.4" height="2" fill="#fff"/>
<rect x="394.1" y="115" width="1.4" height="2" fill="#fff"/>
<rect x="397.5" y="115" width="1.4" height="2" fill="#fff"/>
<rect x="400.9" y="115" width="1.4" height="2" fill="#fff"/>
<rect x="386" y="141" width="18" height="2" fill="#000"/>
<rect x="387.3" y="141" width="1.4" height="1" fill="#fff"/>
<rect x="390.7" y="141" width="1.4" height="1" fill="#fff"/>
<rect x="394.1" y="141" width="1.4" height="1" fill="#fff"/>
<rect x="397.5" y="141" width="1.4" height="1" fill="#fff"/>
<rect x="400.9" y="141" width="1.4" height="1" fill="#fff"/>
<rect x="401" y="118" width="3" height="4" fill="#fff"/>
<path d="M407 126.6 a3 2.6 0 0 0 0 5.2z" fill="#fff" shape-rendering="auto"/>
<rect x="409" y="117" width="50" height="24" fill="#000"/>
<rect x="412" y="114" width="14" height="3" fill="#000"/>
<rect x="413.3" y="115" width="1.4" height="2" fill="#fff"/>
<rect x="416.55" y="115" width="1.4" height="2" fill="#fff"/>
<rect x="419.8" y="115" width="1.4" height="2" fill="#fff"/>
<rect x="423.05" y="115" width="1.4" height="2" fill="#fff"/>
<rect x="412" y="141" width="14" height="2" fill="#000"/>
<rect x="413.3" y="141" width="1.4" height="1" fill="#fff"/>
<rect x="416.55" y="141" width="1.4" height="1" fill="#fff"/>
<rect x="419.8" y="141" width="1.4" height="1" fill="#fff"/>
<rect x="423.05" y="141" width="1.4" height="1" fill="#fff"/>
<rect x="439" y="114" width="18" height="3" fill="#000"/>
<rect x="440.3" y="115" width="1.4" height="2" fill="#fff"/>
<rect x="443.7" y="115" width="1.4" height="2" fill="#fff"/>
<rect x="447.1" y="115" width="1.4" height="2" fill="#fff"/>
<rect x="450.5" y="115" width="1.4" height="2" fill="#fff"/>
<rect x="453.9" y="115" width="1.4" height="2" fill="#fff"/>
<rect x="439" y="141" width="18" height="2" fill="#000"/>
<rect x="440.3" y="141" width="1.4" height="1" fill="#fff"/>
<rect x="443.7" y="141" width="1.4" height="1" fill="#fff"/>
<rect x="447.1" y="141" width="1.4" height="1" fill="#fff"/>
<rect x="450.5" y="141" width="1.4" height="1" fill="#fff"/>
<rect x="453.9" y="141" width="1.4" height="1" fill="#fff"/>
<rect x="453" y="118" width="3" height="4" fill="#fff"/>
<path d="M459 126.6 a3 2.6 0 0 0 0 5.2z" fill="#fff" shape-rendering="auto"/>
<rect x="359" y="144" width="14" height="1" fill="#000"/>
<rect x="386" y="144" width="18" height="1" fill="#000"/>
<rect x="412" y="144" width="14" height="1" fill="#000"/>
<rect x="439" y="144" width="18" height="1" fill="#000"/>
<rect x="356" y="148" width="51" height="24" fill="#000"/>
<rect x="359" y="145" width="14" height="3" fill="#000"/>
<rect x="360.3" y="146" width="1.4" height="2" fill="#fff"/>
<rect x="363.55" y="146" width="1.4" height="2" fill="#fff"/>
<rect x="366.8" y="146" width="1.4" height="2" fill="#fff"/>
<rect x="370.05" y="146" width="1.4" height="2" fill="#fff"/>
<rect x="359" y="172" width="14" height="2" fill="#000"/>
<rect x="360.3" y="172" width="1.4" height="1" fill="#fff"/>
<rect x="363.55" y="172" width="1.4" height="1" fill="#fff"/>
<rect x="366.8" y="172" width="1.4" height="1" fill="#fff"/>
<rect x="370.05" y="172" width="1.4" height="1" fill="#fff"/>
<rect x="386" y="145" width="18" height="3" fill="#000"/>
<rect x="387.3" y="146" width="1.4" height="2" fill="#fff"/>
<rect x="390.7" y="146" width="1.4" height="2" fill="#fff"/>
<rect x="394.1" y="146" width="1.4" height="2" fill="#fff"/>
<rect x="397.5" y="146" width="1.4" height="2" fill="#fff"/>
<rect x="400.9" y="146" width="1.4" height="2" fill="#fff"/>
<rect x="386" y="172" width="18" height="2" fill="#000"/>
<rect x="387.3" y="172" width="1.4" height="1" fill="#fff"/>
<rect x="390.7" y="172" width="1.4" height="1" fill="#fff"/>
<rect x="394.1" y="172" width="1.4" height="1" fill="#fff"/>
<rect x="397.5" y="172" width="1.4" height="1" fill="#fff"/>
<rect x="400.9" y="172" width="1.4" height="1" fill="#fff"/>
<rect x="401" y="149" width="3" height="4" fill="#fff"/>
<path d="M407 157.6 a3 2.6 0 0 0 0 5.2z" fill="#fff" shape-rendering="auto"/>
<rect x="409" y="148" width="50" height="24" fill="#000"/>
<rect x="412" y="145" width="14" height="3" fill="#000"/>
<rect x="413.3" y="146" width="1.4" height="2" fill="#fff"/>
<rect x="416.55" y="146" width="1.4" height="2" fill="#fff"/>
<rect x="419.8" y="146" width="1.4" height="2" fill="#fff"/>
<rect x="423.05" y="146" width="1.4" height="2" fill="#fff"/>
<rect x="412" y="172" width="14" height="2" fill="#000"/>
<rect x="413.3" y="172" width="1.4" height="1" fill="#fff"/>
<rect x="416.55" y="172" width="1.4" height="1" fill="#fff"/>
<rect x="419.8" y="172" width="1.4" height="1" fill="#fff"/>
<rect x="423.05" y="172" width="1.4" height="1" fill="#fff"/>
<rect x="439" y="145" width="18" height="3" fill="#000"/>
<rect x="440.3" y="146" width="1.4" height="2" fill="#fff"/>
<rect x="443.7" y="146" width="1.4" height="2" fill="#fff"/>
<rect x="447.1" y="146" width="1.4" height="2" fill="#fff"/>
<rect x="450.5" y="146" width="1.4" height="2" fill="#fff"/>
<rect x="453.9" y="146" width="1.4" height="2" fill="#fff"/>
<rect x="439" y="172" width="18" height="2" fill="#000"/>
<rect x="440.3" y="172" width="1.4" height="1" fill="#fff"/>
<rect x="443.7" y="172" width="1.4" height="1" fill="#fff"/>
<rect x="447.1" y="172" width="1.4" height="1" fill="#fff"/>
<rect x="450.5" y="172" width="1.4" height="1" fill="#fff"/>
<rect x="453.9" y="172" width="1.4" height="1" fill="#fff"/>
<rect x="453" y="149" width="3" height="4" fill="#fff"/>
<path d="M459 157.6 a3 2.6 0 0 0 0 5.2z" fill="#fff" shape-rendering="auto"/>
<rect x="407" y="55" width="2" height="20" fill="#000"/>
<rect x="408" y="55" width="1" height="9" fill="#fff"/>
<rect x="407" y="63" width="2" height="12" fill="#fff"/>
<rect x="407" y="151" width="2" height="21" fill="#fff"/>
<rect x="400" y="77" width="15" height="72" rx="3" ry="3" fill="#fff"/>
<rect x="463" y="6" width="54" height="200" fill="#000"/>
<rect x="465" y="8" width="3" height="5" fill="#fff"/>
<rect x="465" y="24" width="3" height="5" fill="#fff"/>
<rect x="471" y="8" width="3" height="5" fill="#fff"/>
<rect x="471" y="24" width="3" height="5" fill="#fff"/>
<rect x="476" y="8" width="4" height="5" fill="#fff"/>
<rect x="476" y="24" width="4" height="5" fill="#fff"/>
<rect x="482" y="8" width="4" height="5" fill="#fff"/>
<rect x="482" y="24" width="4" height="5" fill="#fff"/>
<rect x="488" y="8" width="3" height="5" fill="#fff"/>
<rect x="488" y="24" width="3" height="5" fill="#fff"/>
<rect x="494" y="8" width="3" height="5" fill="#fff"/>
<rect x="494" y="24" width="3" height="5" fill="#fff"/>
<rect x="500" y="8" width="3" height="5" fill="#fff"/>
<rect x="500" y="24" width="3" height="5" fill="#fff"/>
<rect x="506" y="8" width="3" height="5" fill="#fff"/>
<rect x="506" y="24" width="3" height="5" fill="#fff"/>
<rect x="511" y="8" width="4" height="5" fill="#fff"/>
<rect x="511" y="24" width="4" height="5" fill="#fff"/>
<rect x="467" y="16" width="21" height="5" fill="#fff"/>
<rect x="491" y="16" width="21" height="5" fill="#fff"/>
<path d="M517 16.5 l-2.6 2 l2.6 2z" fill="#fff" shape-rendering="auto"/>
<rect x="465" y="33" width="3" height="5" fill="#fff"/>
<rect x="465" y="49" width="3" height="5" fill="#fff"/>
<rect x="471" y="33" width="3" height="5" fill="#fff"/>
<rect x="471" y="49" width="3" height="5" fill="#fff"/>
<rect x="476" y="33" width="4" height="5" fill="#fff"/>
<rect x="476" y="49" width="4" height="5" fill="#fff"/>
<rect x="482" y="33" width="4" height="5" fill="#fff"/>
<rect x="482" y="49" width="4" height="5" fill="#fff"/>
<rect x="488" y="33" width="3" height="5" fill="#fff"/>
<rect x="488" y="49" width="3" height="5" fill="#fff"/>
<rect x="494" y="33" width="3" height="5" fill="#fff"/>
<rect x="494" y="49" width="3" height="5" fill="#fff"/>
<rect x="500" y="33" width="3" height="5" fill="#fff"/>
<rect x="500" y="49" width="3" height="5" fill="#fff"/>
<rect x="506" y="33" width="3" height="5" fill="#fff"/>
<rect x="506" y="49" width="3" height="5" fill="#fff"/>
<rect x="511" y="33" width="4" height="5" fill="#fff"/>
<rect x="511" y="49" width="4" height="5" fill="#fff"/>
<rect x="467" y="41" width="21" height="5" fill="#fff"/>
<rect x="491" y="41" width="21" height="5" fill="#fff"/>
<path d="M517 41.5 l-2.6 2 l2.6 2z" fill="#fff" shape-rendering="auto"/>
<rect x="465" y="58" width="3" height="5" fill="#fff"/>
<rect x="465" y="74" width="3" height="5" fill="#fff"/>
<rect x="471" y="58" width="3" height="5" fill="#fff"/>
<rect x="471" y="74" width="3" height="5" fill="#fff"/>
<rect x="476" y="58" width="4" height="5" fill="#fff"/>
<rect x="476" y="74" width="4" height="5" fill="#fff"/>
<rect x="482" y="58" width="4" height="5" fill="#fff"/>
<rect x="482" y="74" width="4" height="5" fill="#fff"/>
<rect x="488" y="58" width="3" height="5" fill="#fff"/>
<rect x="488" y="74" width="3" height="5" fill="#fff"/>
<rect x="494" y="58" width="3" height="5" fill="#fff"/>
<rect x="494" y="74" width="3" height="5" fill="#fff"/>
<rect x="500" y="58" width="3" height="5" fill="#fff"/>
<rect x="500" y="74" width="3" height="5" fill="#fff"/>
<rect x="506" y="58" width="3" height="5" fill="#fff"/>
<rect x="506" y="74" width="3" height="5" fill="#fff"/>
<rect x="511" y="58" width="4" height="5" fill="#fff"/>
<rect x="511" y="74" width="4" height="5" fill="#fff"/>
<rect x="467" y="66" width="21" height="5" fill="#fff"/>
<rect x="491" y="66" width="21" height="5" fill="#fff"/>
<path d="M517 66.5 l-2.6 2 l2.6 2z" fill="#fff" shape-rendering="auto"/>
<rect x="465" y="83" width="3" height="5" fill="#fff"/>
<rect x="465" y="99" width="3" height="5" fill="#fff"/>
<rect x="471" y="83" width="3" height="5" fill="#fff"/>
<rect x="471" y="99" width="3" height="5" fill="#fff"/>
<rect x="476" y="83" width="4" height="5" fill="#fff"/>
<rect x="476" y="99" width="4" height="5" fill="#fff"/>
<rect x="482" y="83" width="4" height="5" fill="#fff"/>
<rect x="482" y="99" width="4" height="5" fill="#fff"/>
<rect x="488" y="83" width="3" height="5" fill="#fff"/>
<rect x="488" y="99" width="3" height="5" fill="#fff"/>
<rect x="494" y="83" width="3" height="5" fill="#fff"/>
<rect x="494" y="99" width="3" height="5" fill="#fff"/>
<rect x="500" y="83" width="3" height="5" fill="#fff"/>
<rect x="500" y="99" width="3" height="5" fill="#fff"/>
<rect x="506" y="83" width="3" height="5" fill="#fff"/>
<rect x="506" y="99" width="3" height="5" fill="#fff"/>
<rect x="511" y="83" width="4" height="5" fill="#fff"/>
<rect x="511" y="99" width="4" height="5" fill="#fff"/>
<rect x="467" y="91" width="21" height="5" fill="#fff"/>
<rect x="491" y="91" width="21" height="5" fill="#fff"/>
<path d="M517 91.5 l-2.6 2 l2.6 2z" fill="#fff" shape-rendering="auto"/>
<rect x="465" y="108" width="3" height="5" fill="#fff"/>
<rect x="465" y="124" width="3" height="5" fill="#fff"/>
<rect x="471" y="108" width="3" height="5" fill="#fff"/>
<rect x="471" y="124" width="3" height="5" fill="#fff"/>
<rect x="476" y="108" width="4" height="5" fill="#fff"/>
<rect x="476" y="124" width="4" height="5" fill="#fff"/>
<rect x="482" y="108" width="4" height="5" fill="#fff"/>
<rect x="482" y="124" width="4" height="5" fill="#fff"/>
<rect x="488" y="108" width="3" height="5" fill="#fff"/>
<rect x="488" y="124" width="3" height="5" fill="#fff"/>
<rect x="494" y="108" width="3" height="5" fill="#fff"/>
<rect x="494" y="124" width="3" height="5" fill="#fff"/>
<rect x="500" y="108" width="3" height="5" fill="#fff"/>
<rect x="500" y="124" width="3" height="5" fill="#fff"/>
<rect x="506" y="108" width="3" height="5" fill="#fff"/>
<rect x="506" y="124" width="3" height="5" fill="#fff"/>
<rect x="511" y="108" width="4" height="5" fill="#fff"/>
<rect x="511" y="124" width="4" height="5" fill="#fff"/>
<rect x="467" y="116" width="21" height="5" fill="#fff"/>
<rect x="491" y="116" width="21" height="5" fill="#fff"/>
<path d="M517 116.5 l-2.6 2 l2.6 2z" fill="#fff" shape-rendering="auto"/>
<rect x="465" y="133" width="3" height="5" fill="#fff"/>
<rect x="465" y="149" width="3" height="5" fill="#fff"/>
<rect x="471" y="133" width="3" height="5" fill="#fff"/>
<rect x="471" y="149" width="3" height="5" fill="#fff"/>
<rect x="476" y="133" width="4" height="5" fill="#fff"/>
<rect x="476" y="149" width="4" height="5" fill="#fff"/>
<rect x="482" y="133" width="4" height="5" fill="#fff"/>
<rect x="482" y="149" width="4" height="5" fill="#fff"/>
<rect x="488" y="133" width="3" height="5" fill="#fff"/>
<rect x="488" y="149" width="3" height="5" fill="#fff"/>
<rect x="494" y="133" width="3" height="5" fill="#fff"/>
<rect x="494" y="149" width="3" height="5" fill="#fff"/>
<rect x="500" y="133" width="3" height="5" fill="#fff"/>
<rect x="500" y="149" width="3" height="5" fill="#fff"/>
<rect x="506" y="133" width="3" height="5" fill="#fff"/>
<rect x="506" y="149" width="3" height="5" fill="#fff"/>
<rect x="511" y="133" width="4" height="5" fill="#fff"/>
<rect x="511" y="149" width="4" height="5" fill="#fff"/>
<rect x="467" y="141" width="21" height="5" fill="#fff"/>
<rect x="491" y="141" width="21" height="5" fill="#fff"/>
<path d="M517 141.5 l-2.6 2 l2.6 2z" fill="#fff" shape-rendering="auto"/>
<rect x="465" y="158" width="3" height="5" fill="#fff"/>
<rect x="465" y="174" width="3" height="5" fill="#fff"/>
<rect x="471" y="158" width="3" height="5" fill="#fff"/>
<rect x="471" y="174" width="3" height="5" fill="#fff"/>
<rect x="476" y="158" width="4" height="5" fill="#fff"/>
<rect x="476" y="174" width="4" height="5" fill="#fff"/>
<rect x="482" y="158" width="4" height="5" fill="#fff"/>
<rect x="482" y="174" width="4" height="5" fill="#fff"/>
<rect x="488" y="158" width="3" height="5" fill="#fff"/>
<rect x="488" y="174" width="3" height="5" fill="#fff"/>
<rect x="494" y="158" width="3" height="5" fill="#fff"/>
<rect x="494" y="174" width="3" height="5" fill="#fff"/>
<rect x="500" y="158" width="3" height="5" fill="#fff"/>
<rect x="500" y="174" width="3" height="5" fill="#fff"/>
<rect x="506" y="158" width="3" height="5" fill="#fff"/>
<rect x="506" y="174" width="3" height="5" fill="#fff"/>
<rect x="511" y="158" width="4" height="5" fill="#fff"/>
<rect x="511" y="174" width="4" height="5" fill="#fff"/>
<rect x="467" y="166" width="21" height="5" fill="#fff"/>
<rect x="491" y="166" width="21" height="5" fill="#fff"/>
<path d="M517 166.5 l-2.6 2 l2.6 2z" fill="#fff" shape-rendering="auto"/>
<rect x="465" y="183" width="3" height="5" fill="#fff"/>
<rect x="465" y="199" width="3" height="5" fill="#fff"/>
<rect x="471" y="183" width="3" height="5" fill="#fff"/>
<rect x="471" y="199" width="3" height="5" fill="#fff"/>
<rect x="476" y="183" width="4" height="5" fill="#fff"/>
<rect x="476" y="199" width="4" height="5" fill="#fff"/>
<rect x="482" y="183" width="4" height="5" fill="#fff"/>
<rect x="482" y="199" width="4" height="5" fill="#fff"/>
<rect x="488" y="183" width="3" height="5" fill="#fff"/>
<rect x="488" y="199" width="3" height="5" fill="#fff"/>
<rect x="494" y="183" width="3" height="5" fill="#fff"/>
<rect x="494" y="199" width="3" height="5" fill="#fff"/>
<rect x="500" y="183" width="3" height="5" fill="#fff"/>
<rect x="500" y="199" width="3" height="5" fill="#fff"/>
<rect x="506" y="183" width="3" height="5" fill="#fff"/>
<rect x="506" y="199" width="3" height="5" fill="#fff"/>
<rect x="511" y="183" width="4" height="5" fill="#fff"/>
<rect x="511" y="199" width="4" height="5" fill="#fff"/>
<rect x="467" y="191" width="21" height="5" fill="#fff"/>
<rect x="491" y="191" width="21" height="5" fill="#fff"/>
<path d="M517 191.5 l-2.6 2 l2.6 2z" fill="#fff" shape-rendering="auto"/>
<rect x="463" y="81" width="54" height="1" fill="#fff"/>
<rect x="463" y="156" width="54" height="1" fill="#fff"/>
<rect x="463" y="181" width="54" height="1" fill="#fff"/>
<rect x="482" y="67" width="15" height="76" rx="4" ry="4" fill="#000"/>
<rect x="483" y="68" width="13" height="74" rx="3" ry="3" fill="#fff"/>
<rect x="521" y="11" width="1" height="90" fill="#000"/>
<rect x="521" y="116" width="1" height="86" fill="#000"/>
<path d="M513.3 4 Q520.8 5.5 521.5 11.5" fill="none" stroke="#000" stroke-width="1.3" shape-rendering="auto"/>
<path d="M521.5 201.5 Q521.5 206 516 211.5" fill="none" stroke="#000" stroke-width="1.3" shape-rendering="auto"/>
<path d="M521.5 100.5 L527.5 108.5 L521.5 116.5" fill="none" stroke="#000" stroke-width="1.3" shape-rendering="auto"/>
<rect x="528" y="99" width="51" height="17" fill="#000"/>
<rect x="530" y="101" width="46" height="13" fill="#fff"/>
<rect x="530" y="101" width="1" height="1" fill="#000"/>
<rect x="575" y="101" width="1" height="1" fill="#000"/>
<rect x="530" y="113" width="1" height="1" fill="#000"/>
<rect x="575" y="113" width="1" height="1" fill="#000"/>
<rect x="528" y="99" width="1" height="1" fill="#fff"/>
<rect x="578" y="99" width="1" height="1" fill="#fff"/>
<rect x="577" y="99" width="1" height="1" fill="#fff"/>
<rect x="578" y="100" width="1" height="1" fill="#fff"/>
<rect x="528" y="115" width="1" height="1" fill="#fff"/>
<rect x="578" y="115" width="1" height="1" fill="#fff"/>
<rect x="534" y="11" width="68" height="19" fill="#000"/>
<rect x="535" y="12" width="66" height="17" fill="#fff"/>
<rect x="538" y="15" width="6" height="11" fill="#000"/>
<rect x="546" y="15" width="6" height="11" fill="#000"/>
<rect x="553" y="15" width="6" height="11" fill="#000"/>
<rect x="560" y="15" width="6" height="11" fill="#000"/>
<rect x="568" y="15" width="6" height="11" fill="#000"/>
<rect x="575" y="15" width="6" height="11" fill="#000"/>
<rect x="582" y="15" width="7" height="11" fill="#000"/>
<rect x="590" y="15" width="6" height="11" fill="#000"/>
<rect x="591" y="16" width="4" height="9" fill="#fff"/>
<circle cx="598.6" cy="12.6" r="1.8" fill="#fff" stroke="#000" stroke-width="1.3" shape-rendering="auto"/>
<rect x="616" y="12" width="36" height="19" fill="#000"/>
<rect x="618" y="14" width="31" height="15" fill="#fff"/>
<rect x="618" y="14" width="1" height="1" fill="#000"/>
<rect x="648" y="14" width="1" height="1" fill="#000"/>
<rect x="618" y="28" width="1" height="1" fill="#000"/>
<rect x="648" y="28" width="1" height="1" fill="#000"/>
<rect x="616" y="12" width="1" height="1" fill="#fff"/>
<rect x="651" y="12" width="1" height="1" fill="#fff"/>
<rect x="650" y="12" width="1" height="1" fill="#fff"/>
<rect x="651" y="13" width="1" height="1" fill="#fff"/>
<rect x="616" y="30" width="1" height="1" fill="#fff"/>
<rect x="651" y="30" width="1" height="1" fill="#fff"/>
<path d="M618 17.3 L615 17.3 L608 18.7 L602 19.6 L602 21.6 L608 22.5 L615 24.3 L618 24.3 Z" fill="#000" stroke="none" stroke-width="1" shape-rendering="auto"/>
<path d="M618 18.6 L615.5 18.6 L608.9 20.6 L615.5 23 L618 23 Z" fill="#fff" stroke="none" stroke-width="1" shape-rendering="auto"/>
<rect x="771" y="29" width="19" height="6" fill="#000"/>
<rect x="772" y="30" width="17" height="4" fill="#fff"/>
<rect x="771" y="82" width="19" height="7" fill="#000"/>
<rect x="772" y="83" width="17" height="5" fill="#fff"/>
<rect x="780" y="37" width="17" height="42" fill="#fff"/>
<rect x="780" y="37" width="17" height="1" fill="#000"/>
<rect x="780" y="78" width="17" height="1" fill="#000"/>
<rect x="796" y="37" width="1" height="42" fill="#000"/>
<rect x="746" y="36" width="34" height="45" fill="#000"/>
<rect x="774" y="25" width="6" height="68" fill="#000"/>
<rect x="770" y="111" width="19" height="6" fill="#000"/>
<rect x="771" y="112" width="17" height="4" fill="#fff"/>
<rect x="770" y="200" width="19" height="6" fill="#000"/>
<rect x="771" y="201" width="17" height="4" fill="#fff"/>
<rect x="781" y="118" width="14" height="81" fill="#fff"/>
<rect x="781" y="118" width="12" height="1" fill="#000"/>
<rect x="781" y="198" width="12" height="1" fill="#000"/>
<rect x="794" y="120" width="1" height="77" fill="#000"/>
<rect x="793" y="119" width="1" height="1" fill="#000"/>
<rect x="793" y="197" width="1" height="1" fill="#000"/>
<rect x="751" y="119" width="28" height="80" fill="#000"/>
<rect x="775" y="109" width="6" height="98" fill="#000"/>
<rect x="779" y="110" width="1" height="96" fill="#fff"/>
<rect x="781" y="109" width="1" height="2" fill="#000"/>
<rect x="781" y="205" width="1" height="2" fill="#000"/>
<rect x="769" y="220" width="19" height="6" fill="#000"/>
<rect x="770" y="221" width="17" height="4" fill="#fff"/>
<rect x="769" y="322" width="19" height="6" fill="#000"/>
<rect x="770" y="323" width="17" height="4" fill="#fff"/>
<rect x="780" y="228" width="14" height="92" fill="#fff"/>
<rect x="780" y="228" width="12" height="1" fill="#000"/>
<rect x="780" y="319" width="12" height="1" fill="#000"/>
<rect x="793" y="230" width="1" height="88" fill="#000"/>
<rect x="792" y="229" width="1" height="1" fill="#000"/>
<rect x="792" y="318" width="1" height="1" fill="#000"/>
<rect x="781" y="226" width="1" height="2" fill="#000"/>
<rect x="781" y="320" width="1" height="2" fill="#000"/>
<rect x="750" y="229" width="28" height="91" fill="#000"/>
<rect x="774" y="218" width="6" height="111" fill="#000"/>
<rect x="778" y="219" width="1" height="109" fill="#fff"/>
<rect x="773" y="348" width="18" height="6" fill="#000"/>
<rect x="774" y="349" width="16" height="4" fill="#fff"/>
<rect x="773" y="402" width="18" height="6" fill="#000"/>
<rect x="774" y="403" width="16" height="4" fill="#fff"/>
<rect x="782" y="356" width="16" height="43" fill="#fff"/>
<rect x="782" y="356" width="14" height="1" fill="#000"/>
<rect x="782" y="398" width="14" height="1" fill="#000"/>
<rect x="797" y="358" width="1" height="39" fill="#000"/>
<rect x="796" y="357" width="1" height="1" fill="#000"/>
<rect x="796" y="397" width="1" height="1" fill="#000"/>
<rect x="747" y="356" width="35" height="44" fill="#000"/>
<rect x="775" y="345" width="7" height="66" fill="#000"/>
<rect x="755.5" y="50" width="33" height="18" fill="#000"/>
<rect x="757.5" y="52" width="28" height="13" fill="#fff"/>
<rect x="757.5" y="52" width="1" height="1" fill="#000"/>
<rect x="784.5" y="52" width="1" height="1" fill="#000"/>
<rect x="757.5" y="64" width="1" height="1" fill="#000"/>
<rect x="784.5" y="64" width="1" height="1" fill="#000"/>
<rect x="787.5" y="50" width="1" height="1" fill="#fff"/>
<rect x="786.5" y="50" width="1" height="1" fill="#fff"/>
<rect x="787.5" y="51" width="1" height="1" fill="#fff"/>
<rect x="787.5" y="67" width="1" height="1" fill="#fff"/>
<rect x="756" y="149" width="34" height="19" fill="#000"/>
<rect x="758" y="151" width="29" height="14" fill="#fff"/>
<rect x="758" y="151" width="1" height="1" fill="#000"/>
<rect x="786" y="151" width="1" height="1" fill="#000"/>
<rect x="758" y="164" width="1" height="1" fill="#000"/>
<rect x="786" y="164" width="1" height="1" fill="#000"/>
<rect x="789" y="149" width="1" height="1" fill="#fff"/>
<rect x="788" y="149" width="1" height="1" fill="#fff"/>
<rect x="789" y="150" width="1" height="1" fill="#fff"/>
<rect x="789" y="167" width="1" height="1" fill="#fff"/>
<rect x="755" y="264" width="33" height="19" fill="#000"/>
<rect x="757" y="267" width="29" height="14" fill="#fff"/>
<rect x="757" y="267" width="1" height="1" fill="#000"/>
<rect x="785" y="267" width="1" height="1" fill="#000"/>
<rect x="757" y="280" width="1" height="1" fill="#000"/>
<rect x="785" y="280" width="1" height="1" fill="#000"/>
<rect x="787" y="264" width="1" height="1" fill="#fff"/>
<rect x="787" y="282" width="1" height="1" fill="#fff"/>
<rect x="756" y="369" width="33" height="19" fill="#000"/>
<rect x="758" y="372" width="29" height="14" fill="#fff"/>
<rect x="758" y="372" width="1" height="1" fill="#000"/>
<rect x="786" y="372" width="1" height="1" fill="#000"/>
<rect x="758" y="385" width="1" height="1" fill="#000"/>
<rect x="786" y="385" width="1" height="1" fill="#000"/>
<rect x="788" y="369" width="1" height="1" fill="#fff"/>
<rect x="788" y="387" width="1" height="1" fill="#fff"/>
<rect x="752" y="440" width="24" height="37" fill="#000"/>
<rect x="776" y="435" width="3" height="46" fill="#000"/>
<rect x="779" y="433" width="4" height="51" fill="#000"/>
<rect x="749" y="446" width="3" height="24" fill="#000"/>
<rect x="745" y="448" width="5" height="9" fill="#000"/>
<rect x="746" y="449" width="3" height="7" fill="#fff"/>
<rect x="745" y="459" width="5" height="9" fill="#000"/>
<rect x="746" y="460" width="3" height="7" fill="#fff"/>
<rect x="750" y="456" width="2" height="5" fill="#fff"/>
<rect x="203" y="220" width="61" height="60" fill="#000"/>
<rect x="211" y="222" width="45" height="5" fill="#fff"/>
<rect x="215" y="222" width="1" height="5" fill="#000"/>
<rect x="226" y="222" width="1" height="5" fill="#000"/>
<rect x="244" y="222" width="1" height="5" fill="#000"/>
<rect x="205" y="228" width="5" height="45" fill="#fff"/>
<rect x="205" y="247" width="5" height="1" fill="#000"/>
<rect x="205" y="254" width="5" height="1" fill="#000"/>
<rect x="256" y="228" width="5" height="44" fill="#fff"/>
<rect x="256" y="245" width="5" height="1" fill="#000"/>
<rect x="211" y="273" width="45" height="5" fill="#fff"/>
<rect x="230" y="273" width="1" height="5" fill="#000"/>
<rect x="248" y="273" width="1" height="5" fill="#000"/>
<rect x="219" y="243" width="28" height="14" fill="#fff"/>
<rect x="216" y="324" width="45" height="45" fill="#000"/>
<rect x="219.8" y="319" width="1.6" height="5" fill="#000"/>
<rect x="219.8" y="369" width="1.6" height="5" fill="#000"/>
<rect x="211" y="327" width="5" height="1.6" fill="#000"/>
<rect x="261" y="327" width="5" height="1.6" fill="#000"/>
<rect x="222.55" y="319" width="1.6" height="5" fill="#000"/>
<rect x="222.55" y="369" width="1.6" height="5" fill="#000"/>
<rect x="211" y="329.87" width="5" height="1.6" fill="#000"/>
<rect x="261" y="329.87" width="5" height="1.6" fill="#000"/>
<rect x="225.3" y="319" width="1.6" height="5" fill="#000"/>
<rect x="225.3" y="369" width="1.6" height="5" fill="#000"/>
<rect x="211" y="332.74" width="5" height="1.6" fill="#000"/>
<rect x="261" y="332.74" width="5" height="1.6" fill="#000"/>
<rect x="228.05" y="319" width="1.6" height="5" fill="#000"/>
<rect x="228.05" y="369" width="1.6" height="5" fill="#000"/>
<rect x="211" y="335.61" width="5" height="1.6" fill="#000"/>
<rect x="261" y="335.61" width="5" height="1.6" fill="#000"/>
<rect x="230.8" y="319" width="1.6" height="5" fill="#000"/>
<rect x="230.8" y="369" width="1.6" height="5" fill="#000"/>
<rect x="211" y="338.48" width="5" height="1.6" fill="#000"/>
<rect x="261" y="338.48" width="5" height="1.6" fill="#000"/>
<rect x="233.55" y="319" width="1.6" height="5" fill="#000"/>
<rect x="233.55" y="369" width="1.6" height="5" fill="#000"/>
<rect x="211" y="341.35" width="5" height="1.6" fill="#000"/>
<rect x="261" y="341.35" width="5" height="1.6" fill="#000"/>
<rect x="236.3" y="319" width="1.6" height="5" fill="#000"/>
<rect x="236.3" y="369" width="1.6" height="5" fill="#000"/>
<rect x="211" y="344.22" width="5" height="1.6" fill="#000"/>
<rect x="261" y="344.22" width="5" height="1.6" fill="#000"/>
<rect x="239.05" y="319" width="1.6" height="5" fill="#000"/>
<rect x="239.05" y="369" width="1.6" height="5" fill="#000"/>
<rect x="211" y="347.09" width="5" height="1.6" fill="#000"/>
<rect x="261" y="347.09" width="5" height="1.6" fill="#000"/>
<rect x="241.8" y="319" width="1.6" height="5" fill="#000"/>
<rect x="241.8" y="369" width="1.6" height="5" fill="#000"/>
<rect x="211" y="349.96" width="5" height="1.6" fill="#000"/>
<rect x="261" y="349.96" width="5" height="1.6" fill="#000"/>
<rect x="244.55" y="319" width="1.6" height="5" fill="#000"/>
<rect x="244.55" y="369" width="1.6" height="5" fill="#000"/>
<rect x="211" y="352.83" width="5" height="1.6" fill="#000"/>
<rect x="261" y="352.83" width="5" height="1.6" fill="#000"/>
<rect x="247.3" y="319" width="1.6" height="5" fill="#000"/>
<rect x="247.3" y="369" width="1.6" height="5" fill="#000"/>
<rect x="211" y="355.7" width="5" height="1.6" fill="#000"/>
<rect x="261" y="355.7" width="5" height="1.6" fill="#000"/>
<rect x="250.05" y="319" width="1.6" height="5" fill="#000"/>
<rect x="250.05" y="369" width="1.6" height="5" fill="#000"/>
<rect x="211" y="358.57" width="5" height="1.6" fill="#000"/>
<rect x="261" y="358.57" width="5" height="1.6" fill="#000"/>
<rect x="252.8" y="319" width="1.6" height="5" fill="#000"/>
<rect x="252.8" y="369" width="1.6" height="5" fill="#000"/>
<rect x="211" y="361.44" width="5" height="1.6" fill="#000"/>
<rect x="261" y="361.44" width="5" height="1.6" fill="#000"/>
<rect x="255.55" y="319" width="1.6" height="5" fill="#000"/>
<rect x="255.55" y="369" width="1.6" height="5" fill="#000"/>
<rect x="211" y="364.31" width="5" height="1.6" fill="#000"/>
<rect x="261" y="364.31" width="5" height="1.6" fill="#000"/>
<path d="M216.5 324.5 L213.5 321.5" stroke="#000" stroke-width="4.8" stroke-linecap="round" shape-rendering="auto"/>
<path d="M260.5 324.5 L263.5 321.5" stroke="#000" stroke-width="4.8" stroke-linecap="round" shape-rendering="auto"/>
<path d="M216.5 368.5 L213.5 371.5" stroke="#000" stroke-width="4.8" stroke-linecap="round" shape-rendering="auto"/>
<path d="M260.5 368.5 L263.5 371.5" stroke="#000" stroke-width="4.8" stroke-linecap="round" shape-rendering="auto"/>
<rect x="224" y="339" width="29" height="14" rx="2" ry="2" fill="#fff"/>
<rect x="32" y="321" width="126" height="43" fill="#000"/>
<rect x="40" y="331" width="110" height="23" fill="#fff"/>
<rect x="34.7" y="323" width="3.6" height="5" fill="#fff"/>
<rect x="34.7" y="357" width="3.6" height="5" fill="#fff"/>
<rect x="40.9" y="323" width="3.6" height="5" fill="#fff"/>
<rect x="40.9" y="357" width="3.6" height="5" fill="#fff"/>
<rect x="47.1" y="323" width="3.6" height="5" fill="#fff"/>
<rect x="47.1" y="357" width="3.6" height="5" fill="#fff"/>
<rect x="53.3" y="323" width="3.6" height="5" fill="#fff"/>
<rect x="53.3" y="357" width="3.6" height="5" fill="#fff"/>
<rect x="59.5" y="323" width="3.6" height="5" fill="#fff"/>
<rect x="59.5" y="357" width="3.6" height="5" fill="#fff"/>
<rect x="65.7" y="323" width="3.6" height="5" fill="#fff"/>
<rect x="65.7" y="357" width="3.6" height="5" fill="#fff"/>
<rect x="71.9" y="323" width="3.6" height="5" fill="#fff"/>
<rect x="71.9" y="357" width="3.6" height="5" fill="#fff"/>
<rect x="78.1" y="323" width="3.6" height="5" fill="#fff"/>
<rect x="78.1" y="357" width="3.6" height="5" fill="#fff"/>
<rect x="84.3" y="323" width="3.6" height="5" fill="#fff"/>
<rect x="84.3" y="357" width="3.6" height="5" fill="#fff"/>
<rect x="90.5" y="323" width="3.6" height="5" fill="#fff"/>
<rect x="90.5" y="357" width="3.6" height="5" fill="#fff"/>
<rect x="96.7" y="323" width="3.6" height="5" fill="#fff"/>
<rect x="96.7" y="357" width="3.6" height="5" fill="#fff"/>
<rect x="102.9" y="323" width="3.6" height="5" fill="#fff"/>
<rect x="102.9" y="357" width="3.6" height="5" fill="#fff"/>
<rect x="109.1" y="323" width="3.6" height="5" fill="#fff"/>
<rect x="109.1" y="357" width="3.6" height="5" fill="#fff"/>
<rect x="115.3" y="323" width="3.6" height="5" fill="#fff"/>
<rect x="115.3" y="357" width="3.6" height="5" fill="#fff"/>
<rect x="121.5" y="323" width="3.6" height="5" fill="#fff"/>
<rect x="121.5" y="357" width="3.6" height="5" fill="#fff"/>
<rect x="127.7" y="323" width="3.6" height="5" fill="#fff"/>
<rect x="127.7" y="357" width="3.6" height="5" fill="#fff"/>
<rect x="133.9" y="323" width="3.6" height="5" fill="#fff"/>
<rect x="133.9" y="357" width="3.6" height="5" fill="#fff"/>
<rect x="140.1" y="323" width="3.6" height="5" fill="#fff"/>
<rect x="140.1" y="357" width="3.6" height="5" fill="#fff"/>
<rect x="146.3" y="323" width="3.6" height="5" fill="#fff"/>
<rect x="146.3" y="357" width="3.6" height="5" fill="#fff"/>
<rect x="152.5" y="323" width="3.6" height="5" fill="#fff"/>
<rect x="152.5" y="357" width="3.6" height="5" fill="#fff"/>
<rect x="92" y="331" width="6" height="23" fill="#000"/>
<path d="M80 333 L109 333 L111 335 L111 350 L109 352 L80 352 L78 350 L78 335 Z" fill="#000" stroke="none" stroke-width="1" />
<rect x="80" y="335" width="29" height="15" fill="#fff"/>
<rect x="80" y="335" width="1" height="1" fill="#000"/>
<rect x="108" y="335" width="1" height="1" fill="#000"/>
<rect x="80" y="349" width="1" height="1" fill="#000"/>
<rect x="108" y="349" width="1" height="1" fill="#000"/>
<rect x="81" y="375" width="65" height="67" fill="#000"/>
<rect x="95" y="391" width="37" height="36" fill="#fff"/>
<rect x="84.2" y="379" width="3" height="3" fill="#fff"/>
<rect x="84.2" y="384.61" width="3" height="3" fill="#fff"/>
<rect x="84.2" y="390.22" width="3" height="3" fill="#fff"/>
<rect x="84.2" y="395.83" width="3" height="3" fill="#fff"/>
<rect x="84.2" y="401.44" width="3" height="3" fill="#fff"/>
<rect x="84.2" y="407.05" width="3" height="3" fill="#fff"/>
<rect x="84.2" y="412.66" width="3" height="3" fill="#fff"/>
<rect x="84.2" y="418.27" width="3" height="3" fill="#fff"/>
<rect x="84.2" y="423.88" width="3" height="3" fill="#fff"/>
<rect x="84.2" y="429.49" width="3" height="3" fill="#fff"/>
<rect x="84.2" y="435.1" width="3" height="3" fill="#fff"/>
<rect x="89.79" y="379" width="3" height="3" fill="#fff"/>
<rect x="89.79" y="384.61" width="3" height="3" fill="#fff"/>
<rect x="89.79" y="390.22" width="3" height="3" fill="#fff"/>
<rect x="89.79" y="395.83" width="3" height="3" fill="#fff"/>
<rect x="89.79" y="401.44" width="3" height="3" fill="#fff"/>
<rect x="89.79" y="407.05" width="3" height="3" fill="#fff"/>
<rect x="89.79" y="412.66" width="3" height="3" fill="#fff"/>
<rect x="89.79" y="418.27" width="3" height="3" fill="#fff"/>
<rect x="89.79" y="423.88" width="3" height="3" fill="#fff"/>
<rect x="89.79" y="429.49" width="3" height="3" fill="#fff"/>
<rect x="89.79" y="435.1" width="3" height="3" fill="#fff"/>
<rect x="95.38" y="379" width="3" height="3" fill="#fff"/>
<rect x="95.38" y="384.61" width="3" height="3" fill="#fff"/>
<rect x="95.38" y="429.49" width="3" height="3" fill="#fff"/>
<rect x="95.38" y="435.1" width="3" height="3" fill="#fff"/>
<rect x="100.97" y="379" width="3" height="3" fill="#fff"/>
<rect x="100.97" y="384.61" width="3" height="3" fill="#fff"/>
<rect x="100.97" y="429.49" width="3" height="3" fill="#fff"/>
<rect x="100.97" y="435.1" width="3" height="3" fill="#fff"/>
<rect x="106.56" y="379" width="3" height="3" fill="#fff"/>
<rect x="106.56" y="384.61" width="3" height="3" fill="#fff"/>
<rect x="106.56" y="429.49" width="3" height="3" fill="#fff"/>
<rect x="106.56" y="435.1" width="3" height="3" fill="#fff"/>
<rect x="112.15" y="379" width="3" height="3" fill="#fff"/>
<rect x="112.15" y="384.61" width="3" height="3" fill="#fff"/>
<rect x="112.15" y="429.49" width="3" height="3" fill="#fff"/>
<rect x="112.15" y="435.1" width="3" height="3" fill="#fff"/>
<rect x="117.74" y="379" width="3" height="3" fill="#fff"/>
<rect x="117.74" y="384.61" width="3" height="3" fill="#fff"/>
<rect x="117.74" y="429.49" width="3" height="3" fill="#fff"/>
<rect x="117.74" y="435.1" width="3" height="3" fill="#fff"/>
<rect x="123.33" y="379" width="3" height="3" fill="#fff"/>
<rect x="123.33" y="384.61" width="3" height="3" fill="#fff"/>
<rect x="123.33" y="429.49" width="3" height="3" fill="#fff"/>
<rect x="123.33" y="435.1" width="3" height="3" fill="#fff"/>
<rect x="128.92" y="379" width="3" height="3" fill="#fff"/>
<rect x="128.92" y="384.61" width="3" height="3" fill="#fff"/>
<rect x="128.92" y="429.49" width="3" height="3" fill="#fff"/>
<rect x="128.92" y="435.1" width="3" height="3" fill="#fff"/>
<rect x="134.51" y="379" width="3" height="3" fill="#fff"/>
<rect x="134.51" y="384.61" width="3" height="3" fill="#fff"/>
<rect x="134.51" y="390.22" width="3" height="3" fill="#fff"/>
<rect x="134.51" y="395.83" width="3" height="3" fill="#fff"/>
<rect x="134.51" y="401.44" width="3" height="3" fill="#fff"/>
<rect x="134.51" y="407.05" width="3" height="3" fill="#fff"/>
<rect x="134.51" y="412.66" width="3" height="3" fill="#fff"/>
<rect x="134.51" y="418.27" width="3" height="3" fill="#fff"/>
<rect x="134.51" y="423.88" width="3" height="3" fill="#fff"/>
<rect x="134.51" y="429.49" width="3" height="3" fill="#fff"/>
<rect x="134.51" y="435.1" width="3" height="3" fill="#fff"/>
<rect x="140.1" y="379" width="3" height="3" fill="#fff"/>
<rect x="140.1" y="384.61" width="3" height="3" fill="#fff"/>
<rect x="140.1" y="390.22" width="3" height="3" fill="#fff"/>
<rect x="140.1" y="395.83" width="3" height="3" fill="#fff"/>
<rect x="140.1" y="401.44" width="3" height="3" fill="#fff"/>
<rect x="140.1" y="407.05" width="3" height="3" fill="#fff"/>
<rect x="140.1" y="412.66" width="3" height="3" fill="#fff"/>
<rect x="140.1" y="418.27" width="3" height="3" fill="#fff"/>
<rect x="140.1" y="423.88" width="3" height="3" fill="#fff"/>
<rect x="140.1" y="429.49" width="3" height="3" fill="#fff"/>
<rect x="140.1" y="435.1" width="3" height="3" fill="#fff"/>
<path d="M100 399 L127 399 L129 401 L129 415 L127 417 L100 417 L98 415 L98 401 Z" fill="#000" stroke="none" stroke-width="1" />
<rect x="100" y="402" width="27" height="13" fill="#fff"/>
<rect x="100" y="402" width="1" height="1" fill="#000"/>
<rect x="126" y="402" width="1" height="1" fill="#000"/>
<rect x="100" y="414" width="1" height="1" fill="#000"/>
<rect x="126" y="414" width="1" height="1" fill="#000"/>
<rect x="58" y="461" width="113" height="24" fill="#000"/>
<rect x="59" y="462" width="111" height="22" fill="#fff"/>
<rect x="58" y="468" width="113" height="1" fill="#000"/>
<rect x="60.1" y="465" width="7" height="2" fill="#000"/>
<rect x="61.9" y="464" width="3.5" height="4" fill="#000"/>
<rect x="60.1" y="471" width="7" height="3" fill="#000"/>
<rect x="69.37" y="465" width="7" height="2" fill="#000"/>
<rect x="71.17" y="464" width="3.5" height="4" fill="#000"/>
<rect x="69.37" y="471" width="7" height="3" fill="#000"/>
<rect x="78.64" y="465" width="7" height="2" fill="#000"/>
<rect x="80.44" y="464" width="3.5" height="4" fill="#000"/>
<rect x="78.64" y="471" width="7" height="3" fill="#000"/>
<rect x="87.91" y="465" width="7" height="2" fill="#000"/>
<rect x="89.71" y="464" width="3.5" height="4" fill="#000"/>
<rect x="87.91" y="471" width="7" height="3" fill="#000"/>
<rect x="97.18" y="465" width="7" height="2" fill="#000"/>
<rect x="98.98" y="464" width="3.5" height="4" fill="#000"/>
<rect x="97.18" y="471" width="7" height="3" fill="#000"/>
<rect x="106.45" y="465" width="7" height="2" fill="#000"/>
<rect x="108.25" y="464" width="3.5" height="4" fill="#000"/>
<rect x="106.45" y="471" width="7" height="3" fill="#000"/>
<rect x="115.72" y="465" width="7" height="2" fill="#000"/>
<rect x="117.52" y="464" width="3.5" height="4" fill="#000"/>
<rect x="115.72" y="471" width="7" height="3" fill="#000"/>
<rect x="124.99" y="465" width="7" height="2" fill="#000"/>
<rect x="126.79" y="464" width="3.5" height="4" fill="#000"/>
<rect x="124.99" y="471" width="7" height="3" fill="#000"/>
<rect x="134.26" y="465" width="7" height="2" fill="#000"/>
<rect x="136.06" y="464" width="3.5" height="4" fill="#000"/>
<rect x="134.26" y="471" width="7" height="3" fill="#000"/>
<rect x="143.53" y="465" width="7" height="2" fill="#000"/>
<rect x="145.33" y="464" width="3.5" height="4" fill="#000"/>
<rect x="143.53" y="471" width="7" height="3" fill="#000"/>
<rect x="152.8" y="465" width="7" height="2" fill="#000"/>
<rect x="154.6" y="464" width="3.5" height="4" fill="#000"/>
<rect x="152.8" y="471" width="7" height="3" fill="#000"/>
<rect x="162.07" y="465" width="7" height="2" fill="#000"/>
<rect x="163.87" y="464" width="3.5" height="4" fill="#000"/>
<rect x="162.07" y="471" width="7" height="3" fill="#000"/>
<rect x="64" y="475" width="8" height="7" fill="#000"/>
<rect x="65" y="476" width="6" height="5" fill="#fff"/>
<rect x="74" y="475" width="8" height="7" fill="#000"/>
<rect x="75" y="476" width="6" height="5" fill="#fff"/>
<rect x="83" y="475" width="8" height="7" fill="#000"/>
<rect x="84" y="476" width="6" height="5" fill="#fff"/>
<rect x="93" y="475" width="7" height="7" fill="#000"/>
<rect x="94" y="476" width="5" height="5" fill="#fff"/>
<rect x="103" y="475" width="6" height="7" fill="#000"/>
<rect x="104" y="476" width="4" height="5" fill="#fff"/>
<rect x="112" y="475" width="7" height="7" fill="#000"/>
<rect x="113" y="476" width="5" height="5" fill="#fff"/>
<rect x="121" y="475" width="7" height="7" fill="#000"/>
<rect x="122" y="476" width="5" height="5" fill="#fff"/>
<rect x="130" y="475" width="7" height="7" fill="#000"/>
<rect x="131" y="476" width="5" height="5" fill="#fff"/>
<rect x="138" y="475" width="8" height="7" fill="#000"/>
<rect x="139" y="476" width="6" height="5" fill="#fff"/>
<rect x="147" y="475" width="8" height="7" fill="#000"/>
<rect x="148" y="476" width="6" height="5" fill="#fff"/>
<rect x="158" y="475" width="7" height="7" fill="#000"/>
<rect x="159" y="476" width="5" height="5" fill="#fff"/>
<rect x="58" y="476" width="1" height="5" fill="#fff"/>
<rect x="58" y="476" width="3" height="1" fill="#000"/>
<rect x="58" y="480" width="3" height="1" fill="#000"/>
<rect x="60" y="478" width="2" height="1" fill="#000"/>
<rect x="61" y="475" width="1" height="7" fill="#000"/>
<rect x="170" y="476" width="1" height="5" fill="#fff"/>
<rect x="168" y="476" width="3" height="1" fill="#000"/>
<rect x="168" y="480" width="3" height="1" fill="#000"/>
<rect x="167" y="478" width="2" height="1" fill="#000"/>
<rect x="167" y="475" width="1" height="7" fill="#000"/>
<rect x="343" y="341" width="13" height="101" fill="#000"/>
<rect x="344" y="342" width="11" height="99" fill="#fff"/>
<rect x="345" y="343" width="4" height="4" fill="#000"/>
<rect x="350" y="343" width="4" height="4" fill="#000"/>
<rect x="345" y="349" width="4" height="4" fill="#000"/>
<rect x="350" y="349" width="4" height="4" fill="#000"/>
<rect x="345" y="355" width="4" height="4" fill="#000"/>
<rect x="350" y="355" width="4" height="4" fill="#000"/>
<rect x="345" y="361" width="4" height="4" fill="#000"/>
<rect x="350" y="361" width="4" height="4" fill="#000"/>
<rect x="345" y="367" width="4" height="4" fill="#000"/>
<rect x="350" y="367" width="4" height="4" fill="#000"/>
<rect x="345" y="372" width="4" height="4" fill="#000"/>
<rect x="350" y="372" width="4" height="4" fill="#000"/>
<rect x="345" y="378" width="4" height="4" fill="#000"/>
<rect x="350" y="378" width="4" height="4" fill="#000"/>
<rect x="345" y="384" width="4" height="4" fill="#000"/>
<rect x="350" y="384" width="4" height="4" fill="#000"/>
<rect x="345" y="390" width="4" height="4" fill="#000"/>
<rect x="350" y="390" width="4" height="4" fill="#000"/>
<rect x="345" y="396" width="4" height="4" fill="#000"/>
<rect x="350" y="396" width="4" height="4" fill="#000"/>
<rect x="345" y="402" width="4" height="4" fill="#000"/>
<rect x="350" y="402" width="4" height="4" fill="#000"/>
<rect x="345" y="408" width="4" height="4" fill="#000"/>
<rect x="350" y="408" width="4" height="4" fill="#000"/>
<rect x="345" y="414" width="4" height="4" fill="#000"/>
<rect x="350" y="414" width="4" height="4" fill="#000"/>
<rect x="345" y="419" width="4" height="4" fill="#000"/>
<rect x="350" y="419" width="4" height="4" fill="#000"/>
<rect x="345" y="425" width="4" height="4" fill="#000"/>
<rect x="350" y="425" width="4" height="4" fill="#000"/>
<rect x="345" y="431" width="4" height="4" fill="#000"/>
<rect x="350" y="431" width="4" height="4" fill="#000"/>
<rect x="345" y="437" width="4" height="4" fill="#000"/>
<rect x="350" y="437" width="4" height="4" fill="#000"/>
<rect x="351" y="438" width="2" height="2" fill="#fff"/>
<rect x="367" y="341" width="13" height="119" fill="#000"/>
<rect x="368" y="342" width="11" height="117" fill="#fff"/>
<rect x="369" y="343" width="4" height="4" fill="#000"/>
<rect x="374" y="342" width="6" height="6" fill="#000"/>
<rect x="374" y="347" width="5" height="1" fill="#fff"/>
<rect x="369" y="349" width="4" height="4" fill="#000"/>
<rect x="374" y="348" width="6" height="6" fill="#000"/>
<rect x="374" y="353" width="5" height="1" fill="#fff"/>
<rect x="369" y="355" width="4" height="4" fill="#000"/>
<rect x="374" y="354" width="6" height="6" fill="#000"/>
<rect x="374" y="359" width="5" height="1" fill="#fff"/>
<rect x="369" y="361" width="4" height="4" fill="#000"/>
<rect x="374" y="360" width="6" height="6" fill="#000"/>
<rect x="374" y="365" width="5" height="1" fill="#fff"/>
<rect x="369" y="367" width="4" height="4" fill="#000"/>
<rect x="374" y="366" width="6" height="5" fill="#000"/>
<rect x="374" y="370" width="5" height="1" fill="#fff"/>
<rect x="369" y="372" width="4" height="4" fill="#000"/>
<rect x="374" y="371" width="6" height="6" fill="#000"/>
<rect x="374" y="376" width="5" height="1" fill="#fff"/>
<rect x="369" y="378" width="4" height="4" fill="#000"/>
<rect x="374" y="377" width="6" height="6" fill="#000"/>
<rect x="374" y="382" width="5" height="1" fill="#fff"/>
<rect x="369" y="384" width="4" height="4" fill="#000"/>
<rect x="374" y="383" width="6" height="6" fill="#000"/>
<rect x="374" y="388" width="5" height="1" fill="#fff"/>
<rect x="369" y="390" width="4" height="4" fill="#000"/>
<rect x="374" y="389" width="6" height="6" fill="#000"/>
<rect x="374" y="394" width="5" height="1" fill="#fff"/>
<rect x="369" y="396" width="4" height="4" fill="#000"/>
<rect x="374" y="395" width="6" height="6" fill="#000"/>
<rect x="374" y="400" width="5" height="1" fill="#fff"/>
<rect x="369" y="402" width="4" height="4" fill="#000"/>
<rect x="374" y="401" width="6" height="6" fill="#000"/>
<rect x="374" y="406" width="5" height="1" fill="#fff"/>
<rect x="369" y="408" width="4" height="4" fill="#000"/>
<rect x="374" y="407" width="6" height="6" fill="#000"/>
<rect x="374" y="412" width="5" height="1" fill="#fff"/>
<rect x="369" y="414" width="4" height="4" fill="#000"/>
<rect x="374" y="413" width="6" height="5" fill="#000"/>
<rect x="374" y="417" width="5" height="1" fill="#fff"/>
<rect x="369" y="419" width="4" height="4" fill="#000"/>
<rect x="374" y="418" width="6" height="6" fill="#000"/>
<rect x="374" y="423" width="5" height="1" fill="#fff"/>
<rect x="369" y="425" width="4" height="4" fill="#000"/>
<rect x="374" y="424" width="6" height="6" fill="#000"/>
<rect x="374" y="429" width="5" height="1" fill="#fff"/>
<rect x="369" y="431" width="4" height="4" fill="#000"/>
<rect x="374" y="430" width="6" height="6" fill="#000"/>
<rect x="374" y="435" width="5" height="1" fill="#fff"/>
<rect x="369" y="437" width="4" height="4" fill="#000"/>
<rect x="374" y="436" width="6" height="6" fill="#000"/>
<rect x="374" y="441" width="5" height="1" fill="#fff"/>
<rect x="369" y="443" width="4" height="4" fill="#000"/>
<rect x="374" y="442" width="6" height="6" fill="#000"/>
<rect x="374" y="447" width="5" height="1" fill="#fff"/>
<rect x="369" y="449" width="4" height="4" fill="#000"/>
<rect x="374" y="448" width="6" height="6" fill="#000"/>
<rect x="374" y="453" width="5" height="1" fill="#fff"/>
<rect x="369" y="455" width="4" height="4" fill="#000"/>
<rect x="374" y="454" width="6" height="5" fill="#000"/>
<rect x="374" y="342" width="5" height="1" fill="#fff"/>
<rect x="375" y="456" width="2" height="2" fill="#fff"/>
<rect x="291.5" y="371" width="36.5" height="19" fill="#000"/>
<rect x="294.5" y="373" width="31.5" height="14" fill="#fff"/>
<rect x="294.5" y="373" width="1" height="1" fill="#000"/>
<rect x="325" y="373" width="1" height="1" fill="#000"/>
<rect x="294.5" y="386" width="1" height="1" fill="#000"/>
<rect x="325" y="386" width="1" height="1" fill="#000"/>
<rect x="291.5" y="371" width="1" height="1" fill="#fff"/>
<rect x="327" y="371" width="1" height="1" fill="#fff"/>
<rect x="291.5" y="389" width="1" height="1" fill="#fff"/>
<rect x="292.5" y="389" width="1" height="1" fill="#fff"/>
<rect x="291.5" y="388" width="1" height="1" fill="#fff"/>
<rect x="327" y="389" width="1" height="1" fill="#fff"/>
<path d="M326 377 L331 377 L334.5 378.2 L343 379.1 L343 381.3 L334.5 382.2 L331 383.6 L326 383.6 Z" fill="#000" stroke="none" stroke-width="1" shape-rendering="auto"/>
<path d="M326 378.3 L330.5 378.3 L333.6 380.2 L330.5 382.3 L326 382.3 Z" fill="#fff" stroke="none" stroke-width="1" shape-rendering="auto"/>
<rect x="395" y="371" width="36" height="18" fill="#000"/>
<rect x="397" y="373" width="31" height="14" fill="#fff"/>
<rect x="397" y="373" width="1" height="1" fill="#000"/>
<rect x="427" y="373" width="1" height="1" fill="#000"/>
<rect x="397" y="386" width="1" height="1" fill="#000"/>
<rect x="427" y="386" width="1" height="1" fill="#000"/>
<rect x="395" y="371" width="1" height="1" fill="#fff"/>
<rect x="430" y="371" width="1" height="1" fill="#fff"/>
<rect x="429" y="371" width="1" height="1" fill="#fff"/>
<rect x="430" y="372" width="1" height="1" fill="#fff"/>
<rect x="395" y="388" width="1" height="1" fill="#fff"/>
<rect x="430" y="388" width="1" height="1" fill="#fff"/>
<path d="M397 376.8 L392 376.8 L387.5 378.2 L380 379.1 L380 381.3 L387.5 382.2 L392 383.4 L397 383.4 Z" fill="#000" stroke="none" stroke-width="1" shape-rendering="auto"/>
<path d="M397 378.1 L392.5 378.1 L388.4 380.2 L392.5 382.1 L397 382.1 Z" fill="#fff" stroke="none" stroke-width="1" shape-rendering="auto"/>
<rect x="481" y="443" width="19" height="6" fill="#000"/>
<rect x="482" y="444" width="1" height="4" fill="#fff"/>
<rect x="484" y="445" width="1" height="2" fill="#fff"/>
<rect x="486" y="444" width="1" height="4" fill="#fff"/>
<rect x="492" y="444" width="1" height="4" fill="#fff"/>
<rect x="510" y="443" width="25" height="6" fill="#000"/>
<rect x="512" y="445" width="3" height="2" fill="#fff"/>
<rect x="516" y="444" width="1" height="4" fill="#fff"/>
<rect x="522" y="444" width="1" height="4" fill="#fff"/>
<rect x="527" y="444" width="2" height="4" fill="#fff"/>
<rect x="533" y="444" width="1" height="4" fill="#fff"/>
<rect x="431" y="436" width="36" height="19" fill="#000"/>
<rect x="433" y="438" width="32" height="14" fill="#fff"/>
<rect x="433" y="438" width="1" height="1" fill="#000"/>
<rect x="464" y="438" width="1" height="1" fill="#000"/>
<rect x="433" y="451" width="1" height="1" fill="#000"/>
<rect x="464" y="451" width="1" height="1" fill="#000"/>
<rect x="431" y="436" width="1" height="1" fill="#fff"/>
<rect x="466" y="436" width="1" height="1" fill="#fff"/>
<rect x="431" y="454" width="1" height="1" fill="#fff"/>
<rect x="466" y="454" width="1" height="1" fill="#fff"/>
<path d="M465 442 L470.5 442 L473.5 443.7 L481 444.5 L481 446.7 L473.5 447.5 L470.5 449 L465 449 Z" fill="#000" stroke="none" stroke-width="1" shape-rendering="auto"/>
<path d="M465 443.3 L470 443.3 L472.6 445.6 L470 447.7 L465 447.7 Z" fill="#fff" stroke="none" stroke-width="1" shape-rendering="auto"/>
<rect x="469" y="421.5" width="35" height="18.5" fill="#000"/>
<rect x="471" y="423.5" width="30" height="14.5" fill="#fff"/>
<rect x="471" y="423.5" width="1" height="1" fill="#000"/>
<rect x="500" y="423.5" width="1" height="1" fill="#000"/>
<rect x="471" y="437" width="1" height="1" fill="#000"/>
<rect x="500" y="437" width="1" height="1" fill="#000"/>
<rect x="469" y="421.5" width="1" height="1" fill="#fff"/>
<rect x="503" y="421.5" width="1" height="1" fill="#fff"/>
<rect x="502" y="421.5" width="1" height="1" fill="#fff"/>
<rect x="503" y="422.5" width="1" height="1" fill="#fff"/>
<rect x="469" y="439" width="1" height="1" fill="#fff"/>
<rect x="503" y="439" width="1" height="1" fill="#fff"/>
<path d="M498 439 L504 436 L510.5 446 L508.5 447 Z" fill="#000" stroke="none" stroke-width="1" shape-rendering="auto"/>
<path d="M500.5 438.5 L502.2 437.6 L507 445 Z" fill="#fff" stroke="none" stroke-width="1" shape-rendering="auto"/>
<path d="M495.5 476 L497 474.5 L499 473.5 L501 473.5 L503 474.5 L505 475.5 L512 475.5 L514 474.5 L515.3 473.3 L516.6 474.5 L519 475.5 L525.5 475.5 L528 474.5 L530 473.5 L532 473.5 L534 474.5 L535.5 476 L535.5 497.5 L534 499 L532 500.3 L530 500.3 L528 499 L525.5 498.2 L518.5 498.2 L516.5 499.5 L515.3 500.5 L514 499.5 L511 498.2 L505 498.2 L503 499 L501 500.3 L499 500.3 L497 499 L495.5 497.5 Z" fill="none" stroke="#000" stroke-width="1.2" shape-rendering="auto" stroke-linejoin="round"/>
<rect x="553" y="407" width="127" height="43" fill="#000"/>
<rect x="555.6" y="409" width="4" height="1" fill="#fff"/>
<rect x="561.73" y="409" width="4" height="1" fill="#fff"/>
<rect x="567.86" y="409" width="4" height="1" fill="#fff"/>
<rect x="573.99" y="409" width="4" height="1" fill="#fff"/>
<rect x="580.12" y="409" width="4" height="1" fill="#fff"/>
<rect x="586.25" y="409" width="4" height="1" fill="#fff"/>
<rect x="592.38" y="409" width="4" height="1" fill="#fff"/>
<rect x="598.51" y="409" width="4" height="1" fill="#fff"/>
<rect x="604.64" y="409" width="4" height="1" fill="#fff"/>
<rect x="610.77" y="409" width="4" height="1" fill="#fff"/>
<rect x="616.9" y="409" width="4" height="1" fill="#fff"/>
<rect x="623.03" y="409" width="4" height="1" fill="#fff"/>
<rect x="629.16" y="409" width="4" height="1" fill="#fff"/>
<rect x="635.29" y="409" width="4" height="1" fill="#fff"/>
<rect x="641.42" y="409" width="4" height="1" fill="#fff"/>
<rect x="647.55" y="409" width="4" height="1" fill="#fff"/>
<rect x="653.68" y="409" width="4" height="1" fill="#fff"/>
<rect x="659.81" y="409" width="4" height="1" fill="#fff"/>
<rect x="665.94" y="409" width="4" height="1" fill="#fff"/>
<rect x="672.07" y="409" width="4" height="1" fill="#fff"/>
<rect x="602" y="421" width="28" height="15" rx="2" ry="2" fill="#fff"/>
<rect x="370" y="276" width="128" height="20" fill="#000"/>
<rect x="377" y="283" width="113" height="6" fill="#fff"/>
<rect x="508" y="276" width="202" height="20" fill="#000"/>
<rect x="516" y="283" width="186" height="6" fill="#fff"/>
<rect x="523" y="283" width="2" height="6" fill="#000"/>
<rect x="554" y="283" width="3" height="6" fill="#000"/>
<rect x="525" y="279" width="29" height="14" fill="#fff"/>
<rect x="525" y="279" width="1" height="1" fill="#000"/>
<rect x="525" y="292" width="1" height="1" fill="#000"/>
</svg>
<div class="t" style="left:89.21px;top:70.73px;font-size:14.5px;line-height:14.5px;letter-spacing:3.21px;transform:scaleX(0.68);">BANK0A</div>
<div class="t" style="left:201.11px;top:24.73px;font-size:14.5px;line-height:14.5px;letter-spacing:2.47px;transform:scaleX(0.68);">BIOS</div>
<div class="t" style="left:201.11px;top:70.73px;font-size:14.5px;line-height:14.5px;letter-spacing:2.47px;transform:scaleX(0.68);">BIOS</div>
<div class="t" style="left:30.85px;top:37.73px;font-size:14.5px;line-height:14.5px;letter-spacing:2.69px;transform:scaleX(0.68);">J18</div>
<div class="v" style="left:272.50px;top:85.60px;width:12px;font-size:14.5px;line-height:14.75px;transform:scaleX(0.68);">BANK0</div>
<div class="v" style="left:291.50px;top:85.60px;width:12px;font-size:14.5px;line-height:14.75px;transform:scaleX(0.68);">BANK1</div>
<div class="v" style="left:311.50px;top:85.60px;width:12px;font-size:14.5px;line-height:14.75px;transform:scaleX(0.68);">BANK2</div>
<div class="v" style="left:330.50px;top:85.60px;width:12px;font-size:14.5px;line-height:14.75px;transform:scaleX(0.68);">BANK3</div>
<div class="v" style="left:400.70px;top:76.48px;width:12px;font-size:14.5px;line-height:14.6px;transform:scaleX(0.68);">BANK0</div>
<div class="v" style="left:482.50px;top:69.33px;width:12px;font-size:14.5px;line-height:14.5px;transform:scaleX(0.68);">BANK1</div>
<div class="t" style="left:535.25px;top:100.73px;font-size:14.5px;line-height:14.5px;letter-spacing:3.45px;transform:scaleX(0.68);">VRAM</div>
<div class="t" style="left:619.36px;top:13.73px;font-size:14.5px;line-height:14.5px;letter-spacing:4.07px;transform:scaleX(0.68);">SW1</div>
<div class="t" style="left:759.01px;top:50.73px;font-size:14.5px;line-height:14.5px;letter-spacing:3.77px;transform:scaleX(0.68);">CN1</div>
<div class="t" style="left:759.51px;top:150.73px;font-size:14.5px;line-height:14.5px;letter-spacing:3.99px;transform:scaleX(0.68);">CN2</div>
<div class="t" style="left:758.31px;top:265.73px;font-size:14.5px;line-height:14.5px;letter-spacing:3.95px;transform:scaleX(0.68);">CN3</div>
<div class="t" style="left:759.51px;top:370.73px;font-size:14.5px;line-height:14.5px;letter-spacing:3.55px;transform:scaleX(0.68);">CN4</div>
<div class="t" style="left:219.51px;top:242.73px;font-size:14.5px;line-height:14.5px;letter-spacing:4.51px;transform:scaleX(0.68);">CPU</div>
<div class="t" style="left:224.81px;top:338.73px;font-size:14.5px;line-height:14.5px;letter-spacing:4.44px;transform:scaleX(0.68);">CPU</div>
<div class="t" style="left:81.81px;top:335.73px;font-size:14.5px;line-height:14.5px;letter-spacing:4.07px;transform:scaleX(0.68);">NPU</div>
<div class="t" style="left:100.21px;top:400.73px;font-size:14.5px;line-height:14.5px;letter-spacing:3.63px;transform:scaleX(0.68);">NPU</div>
<div class="t" style="left:297.31px;top:372.73px;font-size:14.5px;line-height:14.5px;letter-spacing:4.10px;transform:scaleX(0.68);">CN6</div>
<div class="t" style="left:398.41px;top:371.73px;font-size:14.5px;line-height:14.5px;letter-spacing:4.03px;transform:scaleX(0.68);">CN5</div>
<div class="t" style="left:436.75px;top:436.73px;font-size:14.5px;line-height:14.5px;letter-spacing:3.17px;transform:scaleX(0.68);">JP1</div>
<div class="t" style="left:475.65px;top:422.73px;font-size:14.5px;line-height:14.5px;letter-spacing:3.61px;transform:scaleX(0.68);">J19</div>
<div class="t" style="left:602.91px;top:420.73px;font-size:14.5px;line-height:14.5px;letter-spacing:3.74px;transform:scaleX(0.68);">KBD</div>
<div class="t" style="left:527.46px;top:277.73px;font-size:14.5px;line-height:14.5px;letter-spacing:2.84px;transform:scaleX(0.68);">SL1</div>
<div class="t" style="left:625.09px;top:129.00px;font-size:13px;line-height:13px;letter-spacing:3.00px;transform:scaleX(0.68);">MH2832</div>
</div>
</body></html>
